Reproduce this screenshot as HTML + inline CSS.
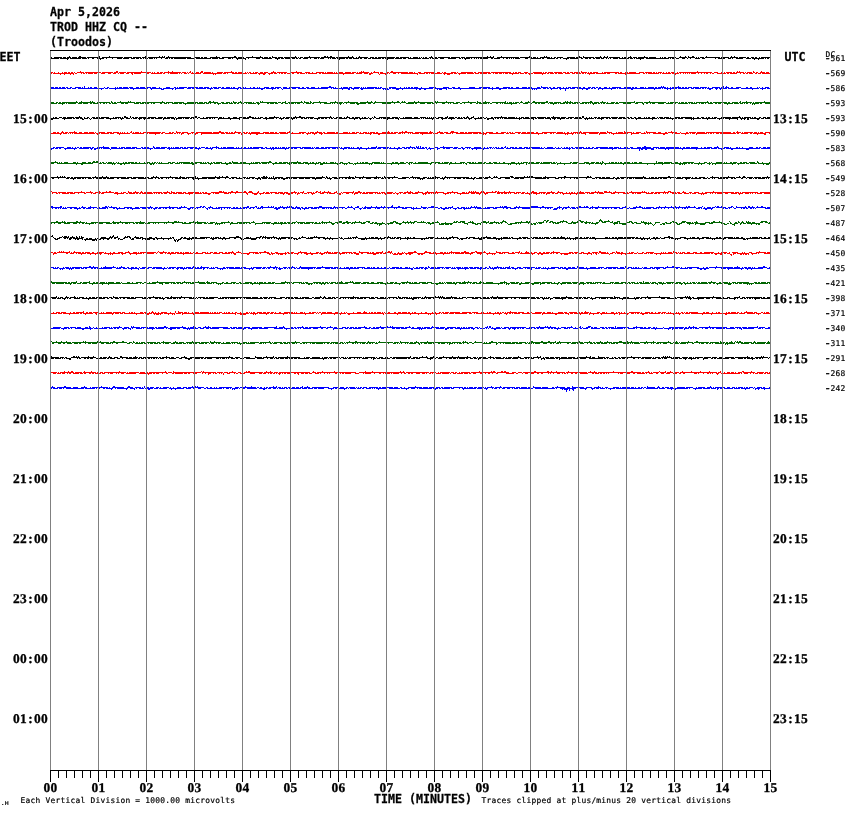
<!DOCTYPE html>
<html lang="en"><head><meta charset="utf-8"><title>TROD HHZ CQ -- (Troodos) Apr 5,2026</title>
<style>html,body{margin:0;padding:0;background:#fff}body{width:850px;height:814px;overflow:hidden}svg{display:block}.b{font-family:'DejaVu Sans Mono','Liberation Mono',monospace;font-weight:bold;font-size:11.627px;fill:#000;stroke:#000;stroke-width:.25px}.t{font-family:'DejaVu Sans Mono','Liberation Mono',monospace;font-weight:normal;font-size:7.9px;fill:#000;stroke:#000;stroke-width:.2px;letter-spacing:.244px}.d{font-family:'Liberation Serif','DejaVu Serif',serif;font-weight:bold;font-size:13.4px;text-rendering:geometricPrecision;fill:#000;stroke:#000;stroke-width:.3px}.m{font-family:'Liberation Sans',sans-serif;font-size:13px;letter-spacing:0;stroke-width:.1px}.g{stroke:#808080;stroke-width:1;fill:none}.k{stroke:#000;stroke-width:1;fill:none}.tr{fill:none;stroke-width:1;stroke-linejoin:miter}</style></head><body>
<svg width="850" height="814" viewBox="0 0 850 814" shape-rendering="crispEdges">
<rect x="0" y="0" width="850" height="814" fill="#fff"/>
<path class="tr" stroke="#000" d="M69 56.5h1m9 0h2m18 0h1m9 0h1m35 0h1m13 0h1m2 0h1m1 0h1m3 0h1m47 0h1m17 0h2m16 0h1m7 0h1m11 0h1m22 0h1m13 0h1m14 0h2m1 0h1m2 0h2m16 0h1m3 0h1m6 0h1m71 0h1m55 0h1m2 0h1m2 0h1m7 0h1m27 0h1m14 0h1m1 0h1m32 0h1m3 0h1m16 0h1m3 0h1m2 0h1m22 0h1m13 0h1m35 0h1m4 0h1m2 0h1m3 0h2m12 0h1m24 0h1m2 0h1M51 57.5h1m2 0h8m1 0h3m1 0h4m1 0h5m1 0h8m1 0h13m2 0h21m1 0h8m1 0h8m1 0h5m1 0h17m1 0h25m3 0h6m1 0h2m1 0h3m3 0h10m2 0h15m1 0h6m2 0h17m1 0h4m1 0h2m1 0h5m1 0h5m1 0h13m1 0h1m1 0h3m1 0h16m1 0h14m1 0h2m1 0h15m2 0h1m1 0h10m2 0h4m1 0h2m1 0h17m1 0h3m1 0h9m1 0h1m2 0h5m1 0h1m1 0h1m1 0h1m1 0h2m2 0h4m2 0h2m1 0h12m1 0h9m1 0h4m1 0h28m3 0h22m1 0h12m1 0h3m1 0h1m2 0h10m1 0h1m2 0h2m1 0h6m4 0h8m1 0h6m1 0h11m1 0h7m1 0h5m1 0h11m2 0h1m1 0h3m1 0h4m1 0h4m1 0h10m1 0h7m4 0h1m1 0h1m1 0h2m2 0h8m3 0h8m1 0h7m1 0h1m1 0h1m1 0h4m1 0h15m1 0h8m1 0h8m1 0h7m1 0h2m2 0h3m1 0h2m2 0h1m1 0h10M51 58.5h8m1 0h9m1 0h11m1 0h5m1 0h1m3 0h2m3 0h1m1 0h5m2 0h1m5 0h1m4 0h5m1 0h6m2 0h4m1 0h3m1 0h2m1 0h1m1 0h3m1 0h4m1 0h1m1 0h1m4 0h1m3 0h3m1 0h1m1 0h2m1 0h12m1 0h8m1 0h15m1 0h6m1 0h5m4 0h3m1 0h1m3 0h10m2 0h1m7 0h4m2 0h10m3 0h5m1 0h3m1 0h5m2 0h3m1 0h2m1 0h2m2 0h5m2 0h1m3 0h3m1 0h1m1 0h4m4 0h1m1 0h1m1 0h4m1 0h8m1 0h2m1 0h3m1 0h6m1 0h2m2 0h3m1 0h3m1 0h9m1 0h2m1 0h9m1 0h7m1 0h3m2 0h13m1 0h7m1 0h1m1 0h6m2 0h4m4 0h8m3 0h2m1 0h1m1 0h6m1 0h1m2 0h1m1 0h1m1 0h1m1 0h8m3 0h2m1 0h6m3 0h1m2 0h2m1 0h1m1 0h1m1 0h1m1 0h5m5 0h3m3 0h10m1 0h2m3 0h8m1 0h2m2 0h1m2 0h6m1 0h8m3 0h2m2 0h3m1 0h2m2 0h2m1 0h4m1 0h3m2 0h1m1 0h1m1 0h1m2 0h5m1 0h7m1 0h2m1 0h3m1 0h1m1 0h8m2 0h23m1 0h1m1 0h3m1 0h3m3 0h3m2 0h1m2 0h1m4 0h5m2 0h3m10 0h1m2 0h7m3 0h3m1 0h1m3 0h7m3 0h5m1 0h12m1 0h1m1 0h2m1 0h1M67 59.5h1m32 0h1m136 0h1m7 0h1m31 0h1m61 0h1m47 0h1m77 0h1m100 0h1m73 0h1m113 0h1m3 0h1"/>
<path class="tr" stroke="#f00" d="M80 71.5h1m35 0h2m23 0h1m26 0h1m3 0h1m17 0h1m10 0h2m28 0h1m41 0h1m22 0h1m64 0h1m1 0h1m10 0h1m16 0h2m188 0h1m115 0h1m39 0h1m1 0h1m13 0h1m7 0h1M51 72.5h2m1 0h1m3 0h1m3 0h1m1 0h3m1 0h2m1 0h2m1 0h1m2 0h7m1 0h16m1 0h11m1 0h4m1 0h7m1 0h24m1 0h1m1 0h1m2 0h2m1 0h3m1 0h17m1 0h4m1 0h1m1 0h2m1 0h1m1 0h1m1 0h3m1 0h3m1 0h7m1 0h1m4 0h6m1 0h10m1 0h2m1 0h4m3 0h1m1 0h1m1 0h2m2 0h1m1 0h3m2 0h3m1 0h4m3 0h5m1 0h10m3 0h12m3 0h5m2 0h1m3 0h8m1 0h1m1 0h6m1 0h1m1 0h1m1 0h5m2 0h6m1 0h4m1 0h1m1 0h10m2 0h1m1 0h6m1 0h3m3 0h3m1 0h18m1 0h4m1 0h1m3 0h3m3 0h11m2 0h3m2 0h1m1 0h2m5 0h5m1 0h1m3 0h12m1 0h2m2 0h4m1 0h7m1 0h20m2 0h1m1 0h2m1 0h3m3 0h4m5 0h9m1 0h1m1 0h2m1 0h5m1 0h8m1 0h3m1 0h2m1 0h3m1 0h6m1 0h6m1 0h1m1 0h2m1 0h5m4 0h1m1 0h15m1 0h2m3 0h3m1 0h7m3 0h5m1 0h7m1 0h2m1 0h1m1 0h4m1 0h1m2 0h1m1 0h2m1 0h4m2 0h1m1 0h33m2 0h4m3 0h2m1 0h1m1 0h6m1 0h2m1 0h8m1 0h1m1 0h5m1 0h2m1 0h2m2 0h5m1 0h3m1 0h1M51 73.5h1m1 0h21m1 0h2m4 0h1m1 0h2m1 0h1m1 0h5m1 0h3m1 0h1m2 0h4m3 0h3m2 0h3m2 0h1m1 0h4m2 0h3m2 0h2m1 0h7m5 0h3m2 0h11m1 0h2m3 0h1m1 0h8m1 0h1m1 0h1m2 0h3m1 0h1m2 0h10m2 0h19m1 0h3m1 0h1m4 0h15m1 0h1m1 0h7m1 0h8m2 0h5m1 0h3m2 0h1m1 0h2m1 0h2m1 0h3m2 0h2m3 0h2m1 0h5m1 0h1m1 0h9m2 0h2m1 0h32m2 0h6m2 0h4m1 0h4m5 0h1m1 0h6m1 0h1m1 0h1m3 0h3m2 0h1m2 0h17m1 0h6m1 0h2m1 0h1m1 0h3m1 0h7m1 0h10m1 0h3m1 0h8m1 0h7m1 0h4m1 0h7m1 0h3m2 0h1m1 0h3m1 0h3m1 0h1m1 0h3m1 0h10m1 0h4m1 0h2m1 0h5m1 0h12m1 0h2m1 0h4m1 0h2m1 0h5m2 0h5m2 0h3m1 0h5m1 0h2m1 0h1m1 0h8m1 0h10m1 0h3m5 0h2m1 0h22m3 0h2m1 0h1m1 0h11m1 0h1m1 0h9m1 0h7m1 0h1m2 0h1m1 0h1m1 0h1m1 0h1m1 0h5m2 0h1m2 0h1m2 0h1m1 0h2m2 0h1m1 0h2m3 0h9m1 0h2m1 0h7m3 0h1m2 0h2m1 0h2m1 0h4m2 0h2m1 0h3m1 0h9M60 74.5h1m3 0h1m5 0h1m2 0h1m58 0h1m80 0h1m1 0h1m43 0h1m3 0h2m4 0h1m73 0h1m25 0h2m8 0h1m5 0h1m31 0h1m26 0h1m2 0h3m9 0h1m52 0h1m16 0h1m12 0h1m46 0h1m35 0h1m49 0h1"/>
<path class="tr" stroke="#00f" d="M84 86.5h1m244 0h2m210 0h1m119 0h1m1 0h1m14 0h1m44 0h1m2 0h1M51 87.5h3m1 0h3m1 0h2m1 0h3m1 0h2m2 0h2m3 0h6m1 0h1m1 0h1m3 0h1m1 0h2m2 0h3m7 0h1m2 0h2m6 0h1m1 0h1m1 0h3m1 0h5m1 0h4m3 0h3m1 0h5m1 0h5m1 0h4m3 0h1m6 0h4m4 0h2m1 0h1m1 0h8m1 0h6m1 0h3m1 0h4m1 0h5m2 0h1m1 0h4m1 0h3m1 0h2m2 0h4m1 0h1m1 0h2m3 0h3m1 0h2m1 0h1m4 0h1m2 0h2m2 0h1m1 0h1m4 0h5m2 0h3m1 0h6m2 0h4m2 0h1m1 0h9m2 0h2m2 0h3m2 0h4m3 0h1m2 0h13m1 0h1m5 0h1m1 0h5m1 0h3m2 0h6m1 0h1m1 0h1m1 0h1m1 0h10m1 0h1m1 0h2m7 0h7m4 0h1m3 0h1m1 0h1m1 0h2m1 0h2m1 0h4m3 0h1m7 0h5m1 0h1m7 0h6m3 0h3m3 0h2m9 0h6m4 0h11m2 0h1m3 0h3m4 0h7m1 0h2m3 0h3m3 0h5m1 0h4m5 0h3m1 0h7m1 0h2m2 0h2m2 0h4m2 0h1m2 0h1m1 0h3m1 0h9m2 0h2m3 0h3m1 0h3m1 0h2m1 0h2m3 0h3m2 0h1m2 0h9m3 0h7m1 0h2m1 0h2m3 0h4m1 0h1m2 0h6m1 0h2m1 0h8m1 0h1m2 0h1m1 0h9m1 0h2m1 0h2m1 0h4m1 0h6m1 0h7m1 0h1m3 0h8m1 0h1m1 0h1m1 0h4m2 0h2m3 0h5m5 0h2m2 0h2m5 0h1m1 0h1m2 0h1m2 0h4M51 88.5h15m1 0h4m1 0h4m2 0h26m1 0h3m1 0h20m1 0h18m2 0h12m1 0h11m1 0h9m3 0h4m1 0h3m1 0h10m1 0h6m1 0h5m2 0h18m1 0h2m1 0h22m1 0h10m1 0h2m2 0h1m1 0h8m1 0h4m2 0h8m1 0h21m3 0h1m1 0h17m1 0h8m1 0h14m1 0h6m1 0h6m1 0h2m1 0h41m1 0h13m1 0h4m1 0h28m1 0h5m1 0h19m1 0h33m2 0h3m1 0h2m1 0h8m1 0h10m1 0h5m2 0h13m1 0h2m1 0h2m2 0h18m1 0h1m1 0h7m1 0h34m1 0h1m1 0h13m1 0h11m2 0h3m1 0h6m1 0h2m1 0h1m1 0h6m2 0h3m1 0h8m1 0h11m2 0h18m1 0h6m1 0h4M98 89.5h1m2 0h1m13 0h1m17 0h1m17 0h1m9 0h3m8 0h1m2 0h1m34 0h1m26 0h1m23 0h2m9 0h1m9 0h1m59 0h1m5 0h2m3 0h1m7 0h2m20 0h1m1 0h1m1 0h2m7 0h3m3 0h1m13 0h1m2 0h2m3 0h2m11 0h1m1 0h3m4 0h1m13 0h1m31 0h1m6 0h2m31 0h1m1 0h1m1 0h1m14 0h1m8 0h1m4 0h1m16 0h1m3 0h2m10 0h1m3 0h1m8 0h1m19 0h2m21 0h1m12 0h1m2 0h1m38 0h2m5 0h1m3 0h1m1 0h1m29 0h1m9 0h1M565 90.5h1"/>
<path class="tr" stroke="#006400" d="M76 101.5h1m4 0h1m8 0h1m1 0h1m5 0h1m12 0h1m8 0h1m7 0h1m1 0h1m31 0h1m46 0h2m2 0h1m19 0h1m6 0h1m19 0h1m1 0h1m22 0h1m15 0h1m2 0h1m5 0h1m8 0h1m15 0h1m12 0h1m18 0h1m3 0h1m3 0h1m16 0h1m4 0h2m3 0h1m1 0h1m9 0h1m3 0h1m16 0h1m1 0h1m8 0h1m21 0h1m8 0h1m7 0h1m19 0h1m15 0h1m6 0h1m4 0h2m11 0h2m17 0h1m1 0h1m2 0h1m19 0h2m10 0h1m31 0h1m14 0h1m57 0h1m32 0h1m5 0h1m17 0h1M51 102.5h3m2 0h2m1 0h2m1 0h16m1 0h16m2 0h13m1 0h2m1 0h2m1 0h18m1 0h5m1 0h23m1 0h7m1 0h10m3 0h7m1 0h3m1 0h4m1 0h3m1 0h10m3 0h3m2 0h4m1 0h1m1 0h4m1 0h5m1 0h8m1 0h1m2 0h3m1 0h17m1 0h3m1 0h4m2 0h2m1 0h12m1 0h5m1 0h2m1 0h14m3 0h13m1 0h14m2 0h13m1 0h26m1 0h5m2 0h25m1 0h20m2 0h4m2 0h14m1 0h4m1 0h8m2 0h14m1 0h1m1 0h3m1 0h1m1 0h4m1 0h3m2 0h6m1 0h16m1 0h4m1 0h7m2 0h10m1 0h4m1 0h1m2 0h11m1 0h5m1 0h6m1 0h1m3 0h4m1 0h2m1 0h16m1 0h7m1 0h22m2 0h1m1 0h8m1 0h1m1 0h3m1 0h2m1 0h5m1 0h1m1 0h13m1 0h2m1 0h14m1 0h2m2 0h6m1 0h2m1 0h10m1 0h1m1 0h16M51 103.5h6m1 0h7m1 0h1m1 0h8m2 0h4m1 0h5m2 0h2m1 0h5m2 0h1m2 0h2m1 0h1m2 0h2m1 0h5m4 0h3m1 0h3m6 0h5m1 0h4m1 0h4m2 0h1m1 0h2m5 0h2m2 0h3m1 0h1m3 0h6m1 0h3m1 0h13m1 0h8m1 0h3m1 0h1m3 0h2m1 0h4m1 0h6m1 0h4m1 0h2m1 0h2m2 0h3m2 0h1m1 0h8m1 0h3m7 0h2m1 0h4m1 0h3m3 0h2m2 0h3m1 0h5m1 0h1m1 0h3m3 0h1m2 0h5m1 0h2m6 0h1m3 0h7m1 0h1m1 0h1m2 0h1m1 0h3m1 0h1m2 0h1m3 0h5m1 0h10m2 0h3m2 0h2m7 0h9m3 0h1m5 0h1m5 0h8m1 0h2m3 0h5m2 0h4m1 0h3m1 0h1m5 0h3m3 0h1m1 0h1m2 0h5m2 0h2m2 0h1m5 0h2m4 0h2m1 0h3m1 0h4m1 0h1m1 0h2m4 0h2m2 0h1m1 0h1m1 0h13m2 0h1m3 0h5m2 0h2m3 0h2m1 0h2m1 0h4m3 0h1m1 0h7m1 0h1m1 0h5m1 0h2m1 0h2m1 0h4m1 0h2m1 0h4m1 0h2m1 0h1m1 0h1m1 0h5m1 0h2m1 0h1m1 0h2m1 0h8m1 0h4m4 0h3m1 0h4m4 0h3m4 0h2m2 0h2m2 0h1m1 0h3m3 0h6m2 0h7m1 0h2m2 0h10m1 0h1m1 0h6m2 0h1m1 0h3m1 0h1m2 0h5m2 0h2m1 0h3m3 0h9m1 0h5m1 0h3m1 0h1m1 0h2m2 0h1m1 0h7m1 0h2m3 0h6M62 104.5h1m122 0h1m32 0h1m39 0h1m81 0h1m16 0h2m152 0h1m41 0h1m39 0h1m49 0h1m83 0h1m24 0h1m1 0h1"/>
<path class="tr" stroke="#000" d="M79 116.5h1m44 0h2m4 0h1m64 0h2m52 0h2m23 0h1m20 0h1m3 0h2m29 0h1m16 0h1m26 0h1m72 0h1m19 0h1m5 0h1m27 0h1m51 0h1m28 0h2m155 0h1M53 117.5h1m1 0h2m2 0h3m1 0h3m1 0h7m1 0h7m2 0h1m2 0h2m3 0h3m1 0h2m1 0h1m1 0h8m4 0h1m1 0h6m1 0h1m1 0h4m2 0h1m1 0h2m1 0h3m1 0h7m2 0h8m2 0h5m1 0h2m1 0h7m1 0h1m2 0h12m1 0h6m1 0h2m3 0h1m2 0h12m1 0h3m1 0h1m4 0h2m3 0h4m2 0h7m1 0h7m1 0h1m2 0h1m1 0h3m2 0h2m2 0h10m1 0h1m2 0h2m1 0h6m1 0h12m1 0h8m4 0h14m1 0h1m2 0h6m2 0h1m1 0h4m2 0h2m1 0h5m2 0h1m1 0h2m2 0h1m3 0h1m1 0h2m3 0h11m2 0h6m1 0h1m3 0h1m1 0h7m2 0h4m2 0h6m1 0h1m1 0h1m1 0h1m1 0h3m2 0h5m2 0h3m1 0h5m1 0h2m1 0h2m1 0h1m1 0h2m1 0h3m2 0h3m4 0h1m1 0h4m2 0h1m4 0h2m1 0h13m1 0h7m1 0h1m2 0h1m1 0h3m1 0h4m1 0h6m1 0h9m1 0h3m1 0h9m1 0h5m2 0h6m1 0h6m1 0h2m2 0h1m2 0h1m1 0h1m2 0h3m1 0h2m1 0h9m1 0h7m1 0h6m2 0h2m1 0h2m2 0h2m2 0h3m3 0h1m1 0h1m1 0h2m2 0h3m2 0h1m1 0h4m1 0h5m1 0h1m3 0h6m1 0h11m1 0h1m3 0h2m2 0h3m2 0h1m1 0h2m2 0h1m1 0h3m4 0h10m1 0h9m1 0h1m1 0h7m1 0h1m1 0h2m3 0h2m2 0h3m1 0h3M51 118.5h8m3 0h10m1 0h2m1 0h3m1 0h3m1 0h4m1 0h1m1 0h1m1 0h11m2 0h11m1 0h1m1 0h4m2 0h4m1 0h1m1 0h4m1 0h4m1 0h7m1 0h3m1 0h7m1 0h7m1 0h4m1 0h6m1 0h1m1 0h4m1 0h2m1 0h2m2 0h1m2 0h8m1 0h2m1 0h1m1 0h1m3 0h22m2 0h7m3 0h9m2 0h11m2 0h1m2 0h5m1 0h4m2 0h4m1 0h1m4 0h2m1 0h3m1 0h1m1 0h3m1 0h6m1 0h3m1 0h2m2 0h1m1 0h2m1 0h3m1 0h9m2 0h9m1 0h9m1 0h3m1 0h1m2 0h4m1 0h1m1 0h11m1 0h4m1 0h20m1 0h1m1 0h1m1 0h9m2 0h3m2 0h6m1 0h7m2 0h6m1 0h3m1 0h4m2 0h9m1 0h2m1 0h7m1 0h1m1 0h2m1 0h1m1 0h1m1 0h18m1 0h11m1 0h2m1 0h6m1 0h6m1 0h4m1 0h8m1 0h3m1 0h2m2 0h8m2 0h10m1 0h1m1 0h7m2 0h2m1 0h2m1 0h5m1 0h4m1 0h4m1 0h2m1 0h3m1 0h22m1 0h1m1 0h5m1 0h11m1 0h5m2 0h16m1 0h14m1 0h7m1 0h13m2 0h6m1 0h2m1 0h10m1 0h3m1 0h6M51 119.5h2m11 0h1m17 0h2m6 0h1m19 0h1m10 0h1m17 0h1m4 0h1m18 0h1m10 0h1m1 0h1m41 0h1m11 0h1m8 0h1m26 0h1m14 0h1m10 0h1m24 0h1m36 0h1m5 0h1m9 0h1m16 0h1m10 0h1m33 0h1m9 0h1m8 0h1m17 0h1m5 0h1m11 0h2m4 0h1m25 0h1m13 0h1m16 0h1m3 0h1m5 0h1m24 0h1m1 0h1m13 0h1m34 0h1m15 0h1m19 0h1m18 0h1m1 0h1m13 0h1m11 0h1m9 0h1m7 0h1m3 0h1m2 0h1m2 0h2m8 0h2"/>
<path class="tr" stroke="#f00" d="M62 131.5h1m11 0h1m56 0h1m44 0h1m42 0h2m14 0h1m53 0h1m27 0h1m70 0h1m13 0h1m2 0h2m23 0h1m8 0h1m11 0h3m126 0h1m26 0h1m16 0h1m21 0h1m24 0h1m65 0h1M53 132.5h3m1 0h2m2 0h3m1 0h3m1 0h8m2 0h3m2 0h4m1 0h5m1 0h1m2 0h7m2 0h5m1 0h6m1 0h1m1 0h1m1 0h1m2 0h1m2 0h2m1 0h1m1 0h4m1 0h1m2 0h18m1 0h3m4 0h2m1 0h2m2 0h5m1 0h6m3 0h4m1 0h16m1 0h11m1 0h3m1 0h1m1 0h2m1 0h7m2 0h2m1 0h2m1 0h1m1 0h9m3 0h6m1 0h4m1 0h2m2 0h7m1 0h4m1 0h1m6 0h7m2 0h1m1 0h4m1 0h7m1 0h2m2 0h8m1 0h3m4 0h5m1 0h1m2 0h3m1 0h3m1 0h1m2 0h4m1 0h1m1 0h5m1 0h2m4 0h8m1 0h2m1 0h4m1 0h14m2 0h13m1 0h4m4 0h6m1 0h4m2 0h8m2 0h4m1 0h2m1 0h13m1 0h2m2 0h7m3 0h2m3 0h5m1 0h1m1 0h2m1 0h1m2 0h6m1 0h4m1 0h7m2 0h2m4 0h14m1 0h6m1 0h1m2 0h2m2 0h1m1 0h9m1 0h16m1 0h6m1 0h5m4 0h1m1 0h5m1 0h8m1 0h1m2 0h5m3 0h1m1 0h10m2 0h3m4 0h2m1 0h6m1 0h2m3 0h1m5 0h2m1 0h7m1 0h8m1 0h25m2 0h2m1 0h5m1 0h1m1 0h9m1 0h3m1 0h1m1 0h3m2 0h6M51 133.5h11m1 0h4m1 0h1m1 0h1m1 0h1m1 0h21m1 0h4m1 0h8m1 0h4m3 0h13m2 0h12m2 0h2m1 0h11m1 0h2m2 0h8m1 0h2m1 0h1m1 0h1m1 0h3m3 0h4m1 0h1m2 0h3m3 0h18m2 0h4m1 0h9m3 0h2m1 0h2m1 0h3m1 0h16m1 0h14m1 0h8m3 0h10m1 0h2m2 0h5m1 0h5m2 0h4m1 0h33m2 0h5m1 0h7m1 0h23m2 0h3m1 0h1m1 0h1m3 0h1m1 0h1m1 0h7m1 0h12m1 0h5m2 0h4m2 0h5m1 0h1m3 0h16m1 0h5m1 0h8m2 0h15m2 0h3m1 0h5m3 0h2m1 0h22m1 0h3m3 0h2m1 0h1m2 0h18m1 0h1m1 0h1m1 0h1m1 0h5m3 0h9m1 0h8m2 0h1m1 0h17m3 0h8m2 0h5m1 0h1m1 0h1m3 0h15m4 0h1m1 0h6m1 0h8m1 0h1m1 0h3m1 0h11m1 0h1m1 0h2m1 0h1m2 0h3m1 0h16m1 0h2m2 0h7m2 0h2m1 0h13m3 0h2M60 134.5h1m36 0h1m21 0h1m35 0h1m25 0h1m6 0h1m6 0h1m5 0h1m39 0h1m8 0h1m5 0h2m49 0h1m6 0h1m6 0h1m48 0h1m7 0h2m42 0h1m60 0h1m1 0h1m52 0h1m26 0h1m1 0h1m4 0h1m12 0h1m13 0h1m13 0h1m17 0h1m31 0h2m20 0h1m10 0h1m60 0h1m6 0h2"/>
<path class="tr" stroke="#00f" d="M103 146.5h1m49 0h1m62 0h1m121 0h1m37 0h1m33 0h1m5 0h1m1 0h1m1 0h1m22 0h1m61 0h1m138 0h2m71 0h1M53 147.5h2m1 0h8m3 0h4m1 0h1m2 0h1m1 0h2m1 0h2m1 0h8m1 0h2m3 0h12m2 0h6m2 0h1m1 0h4m1 0h5m1 0h5m4 0h2m1 0h5m4 0h2m1 0h4m1 0h6m1 0h2m1 0h1m1 0h1m1 0h4m1 0h3m1 0h2m1 0h10m2 0h1m1 0h4m1 0h2m2 0h1m1 0h7m2 0h1m1 0h3m1 0h7m2 0h1m1 0h1m2 0h2m1 0h2m2 0h1m1 0h2m1 0h10m2 0h2m3 0h1m1 0h2m1 0h2m1 0h1m1 0h1m1 0h3m1 0h1m1 0h13m1 0h9m1 0h1m1 0h1m1 0h3m2 0h3m1 0h15m1 0h1m2 0h6m1 0h1m1 0h1m3 0h2m1 0h2m6 0h1m2 0h6m1 0h8m1 0h2m1 0h1m3 0h1m3 0h2m2 0h3m1 0h9m1 0h3m1 0h1m1 0h2m1 0h2m2 0h1m4 0h4m2 0h13m1 0h4m3 0h2m2 0h6m3 0h7m1 0h1m1 0h1m2 0h1m1 0h3m1 0h1m1 0h2m1 0h1m2 0h2m1 0h2m1 0h1m2 0h4m1 0h2m2 0h3m2 0h4m1 0h11m1 0h1m2 0h1m2 0h6m2 0h1m2 0h1m2 0h1m2 0h1m1 0h2m1 0h1m1 0h2m2 0h9m2 0h1m1 0h2m2 0h2m2 0h12m1 0h4m1 0h5m1 0h1m3 0h2m1 0h1m2 0h3m4 0h4m1 0h9m2 0h6m1 0h5m1 0h13m1 0h1m2 0h2m1 0h4m1 0h7m3 0h1m2 0h2m1 0h5m2 0h5m3 0h1m1 0h5m1 0h1m5 0h2m1 0h1m2 0h1m6 0h4m3 0h2m1 0h2m2 0h3m1 0h4M51 148.5h3m1 0h3m1 0h2m3 0h13m2 0h10m1 0h3m1 0h6m1 0h1m1 0h7m1 0h12m1 0h11m1 0h5m1 0h11m1 0h11m2 0h14m1 0h6m2 0h3m2 0h6m4 0h8m3 0h1m1 0h41m2 0h4m1 0h23m1 0h3m1 0h3m3 0h3m1 0h10m1 0h12m1 0h2m2 0h4m1 0h1m2 0h7m1 0h28m1 0h4m2 0h5m1 0h13m2 0h3m1 0h2m2 0h1m1 0h2m1 0h8m1 0h1m1 0h7m2 0h3m3 0h2m1 0h4m3 0h4m1 0h3m1 0h3m2 0h1m1 0h1m1 0h18m1 0h1m1 0h1m1 0h1m1 0h8m2 0h5m1 0h13m1 0h5m1 0h12m1 0h10m1 0h5m1 0h9m1 0h3m1 0h6m1 0h10m1 0h4m2 0h17m1 0h12m1 0h23m2 0h1m1 0h52m1 0h6m1 0h7m1 0h34m1 0h10M51 149.5h1m13 0h1m8 0h1m16 0h1m2 0h2m14 0h1m39 0h1m18 0h1m28 0h1m12 0h1m59 0h1m1 0h1m11 0h1m57 0h1m15 0h1m6 0h1m30 0h1m29 0h1m2 0h1m6 0h1m25 0h1m8 0h1m3 0h1m6 0h1m85 0h1m8 0h1m33 0h1m26 0h1m1 0h2m2 0h2m4 0h3m11 0h1m2 0h1m13 0h1m13 0h1m24 0h1m9 0h2m13 0h3M639 150.5h1"/>
<path class="tr" stroke="#006400" d="M55 161.5h1m37 0h2m1 0h2m134 0h1m36 0h2m26 0h1m136 0h1m167 0h1m53 0h1m100 0h1M51 162.5h7m1 0h1m1 0h1m2 0h4m5 0h3m1 0h1m4 0h4m2 0h3m1 0h6m2 0h1m1 0h2m2 0h1m1 0h4m1 0h1m2 0h1m1 0h1m4 0h1m1 0h2m1 0h6m1 0h2m2 0h1m4 0h1m2 0h3m2 0h1m1 0h2m1 0h1m1 0h1m1 0h1m6 0h3m1 0h3m2 0h1m1 0h11m1 0h2m2 0h7m1 0h1m1 0h1m1 0h2m2 0h1m1 0h2m1 0h6m3 0h1m3 0h2m1 0h6m2 0h2m1 0h3m5 0h1m1 0h1m1 0h5m1 0h11m3 0h2m2 0h3m1 0h5m1 0h1m1 0h10m2 0h5m2 0h1m1 0h2m2 0h1m1 0h3m2 0h2m1 0h1m3 0h4m1 0h1m4 0h3m5 0h2m7 0h1m2 0h1m1 0h2m1 0h3m4 0h8m1 0h1m1 0h1m2 0h1m5 0h2m1 0h3m2 0h4m2 0h2m1 0h4m2 0h1m2 0h10m3 0h9m2 0h1m1 0h5m1 0h2m3 0h1m4 0h5m2 0h4m1 0h2m1 0h1m2 0h5m1 0h2m3 0h2m2 0h4m2 0h1m3 0h2m6 0h4m3 0h1m2 0h1m1 0h5m1 0h5m2 0h4m1 0h1m1 0h9m1 0h2m1 0h1m3 0h1m9 0h2m1 0h6m5 0h5m2 0h4m1 0h3m1 0h1m1 0h2m5 0h1m1 0h3m1 0h2m1 0h1m1 0h2m2 0h2m1 0h3m2 0h1m1 0h3m2 0h3m14 0h1m1 0h5m1 0h8m2 0h4m2 0h1m2 0h11m5 0h1m4 0h3m2 0h1m1 0h1m4 0h7m1 0h1m1 0h1m3 0h2m1 0h4m3 0h2m1 0h4m2 0h6m2 0h2m3 0h1m6 0h2M51 163.5h3m3 0h36m5 0h4m1 0h3m1 0h9m1 0h13m1 0h17m1 0h6m1 0h1m1 0h11m1 0h3m2 0h5m1 0h1m1 0h14m3 0h7m1 0h5m1 0h6m1 0h11m1 0h25m1 0h2m1 0h5m1 0h1m3 0h14m1 0h5m1 0h4m1 0h6m1 0h14m1 0h21m1 0h6m1 0h4m1 0h19m1 0h32m2 0h2m1 0h1m1 0h19m3 0h1m2 0h10m1 0h13m1 0h1m1 0h2m2 0h16m1 0h7m1 0h30m2 0h1m1 0h11m1 0h10m1 0h5m1 0h14m1 0h5m1 0h7m1 0h8m1 0h8m1 0h66m1 0h16m1 0h2m1 0h2m1 0h11m2 0h4m1 0h24m1 0h8m1 0h3m1 0h7m1 0h13M76 164.5h1m4 0h2m15 0h1m13 0h1m1 0h1m5 0h2m2 0h1m25 0h2m1 0h1m38 0h2m16 0h1m15 0h2m14 0h1m6 0h1m23 0h1m15 0h1m18 0h1m6 0h1m4 0h3m14 0h1m6 0h1m1 0h1m6 0h1m1 0h1m13 0h1m1 0h1m19 0h1m6 0h1m10 0h1m20 0h1m18 0h1m16 0h1m41 0h1m1 0h1m5 0h1m2 0h1m6 0h1m30 0h1m6 0h1m24 0h1m11 0h1m3 0h1m17 0h1m23 0h1m6 0h1m7 0h1m16 0h2m1 0h1m1 0h1m13 0h1m2 0h1m7 0h1m2 0h1m2 0h1m16 0h1m5 0h1m24 0h1m2 0h3"/>
<path class="tr" stroke="#000" d="M57 176.5h1m2 0h1m1 0h1m1 0h1m30 0h1m6 0h1m3 0h1m46 0h1m2 0h1m13 0h1m9 0h1m14 0h1m19 0h1m3 0h1m2 0h1m3 0h2m35 0h2m1 0h1m6 0h1m48 0h1m3 0h1m22 0h1m5 0h1m7 0h1m12 0h1m7 0h1m9 0h1m17 0h1m22 0h1m9 0h1m43 0h1m4 0h1m1 0h1m13 0h3m11 0h1m2 0h1m1 0h4m12 0h1m18 0h2m21 0h2m1 0h1m52 0h1m24 0h2m42 0h1m15 0h1m10 0h1m3 0h2m22 0h1M51 177.5h15m1 0h3m1 0h2m1 0h17m1 0h17m1 0h16m1 0h5m1 0h11m1 0h4m2 0h8m1 0h18m1 0h6m1 0h10m1 0h1m4 0h27m2 0h6m2 0h1m3 0h3m1 0h1m1 0h6m3 0h2m1 0h7m1 0h1m1 0h1m1 0h1m1 0h8m3 0h29m1 0h9m1 0h2m1 0h1m2 0h5m1 0h16m1 0h26m1 0h1m1 0h14m4 0h7m1 0h10m3 0h4m1 0h1m1 0h1m1 0h8m2 0h1m1 0h25m2 0h1m2 0h2m3 0h5m1 0h6m2 0h5m2 0h10m1 0h3m1 0h27m1 0h13m2 0h34m3 0h6m1 0h3m1 0h4m3 0h2m2 0h2m1 0h26m3 0h1m1 0h3m1 0h2m1 0h16m1 0h1m1 0h4m1 0h9m1 0h1m2 0h2m2 0h6m2 0h1m2 0h9m1 0h15m1 0h5m1 0h4m1 0h6m1 0h7m1 0h9M52 178.5h2m4 0h1m7 0h3m1 0h6m1 0h4m1 0h2m1 0h1m2 0h4m1 0h1m2 0h6m1 0h3m1 0h7m3 0h2m2 0h8m2 0h5m2 0h8m2 0h5m2 0h1m2 0h2m1 0h2m3 0h1m1 0h1m3 0h1m2 0h6m1 0h5m1 0h1m3 0h2m1 0h12m1 0h7m2 0h3m5 0h1m3 0h2m1 0h2m2 0h7m1 0h1m1 0h4m2 0h2m1 0h6m1 0h5m1 0h9m1 0h2m1 0h7m1 0h3m1 0h4m2 0h5m1 0h5m2 0h10m3 0h1m1 0h5m2 0h6m2 0h1m2 0h2m1 0h3m1 0h3m4 0h2m1 0h1m3 0h5m3 0h3m1 0h1m2 0h3m1 0h2m1 0h2m2 0h1m5 0h8m3 0h1m3 0h1m1 0h1m1 0h8m2 0h9m1 0h1m2 0h5m2 0h1m1 0h1m4 0h2m1 0h4m2 0h2m1 0h9m1 0h7m1 0h4m3 0h2m5 0h3m4 0h5m4 0h5m1 0h4m11 0h11m1 0h2m6 0h4m2 0h1m2 0h1m5 0h1m3 0h1m1 0h3m7 0h1m5 0h3m1 0h1m2 0h15m1 0h5m1 0h3m3 0h1m1 0h3m1 0h1m1 0h8m1 0h15m1 0h2m1 0h4m3 0h1m3 0h1m1 0h7m2 0h5m1 0h10m2 0h4m1 0h2m2 0h1m1 0h1m3 0h7m1 0h2m3 0h2m1 0h2m5 0h2m3 0h1m2 0h3m1 0h1m1 0h2m1 0h7m1 0h1m1 0h1m1 0h1M73 179.5h1m119 0h1m4 0h1m58 0h1m2 0h1m13 0h1m8 0h2m30 0h1m14 0h1m89 0h1m1 0h1m20 0h1m29 0h1m142 0h1m69 0h1"/>
<path class="tr" stroke="#f00" d="M51 191.5h1m29 0h1m8 0h1m8 0h1m6 0h1m2 0h2m17 0h1m6 0h1m5 0h1m25 0h1m3 0h1m47 0h3m1 0h1m7 0h2m3 0h2m6 0h2m3 0h3m6 0h1m35 0h1m8 0h1m12 0h2m2 0h1m3 0h1m3 0h1m7 0h1m16 0h1m4 0h2m47 0h1m2 0h1m7 0h1m8 0h1m8 0h1m15 0h1m16 0h1m1 0h1m1 0h1m1 0h1m5 0h3m8 0h1m2 0h2m1 0h1m5 0h1m4 0h1m22 0h2m17 0h1m6 0h1m21 0h1m14 0h1m2 0h1m5 0h3m2 0h1m5 0h1m15 0h1m10 0h1m1 0h1m19 0h1m3 0h3m3 0h1m8 0h1m29 0h1M52 192.5h5m1 0h8m1 0h6m1 0h11m1 0h7m2 0h6m1 0h12m1 0h3m3 0h1m1 0h3m2 0h4m1 0h6m1 0h3m1 0h2m1 0h5m1 0h9m1 0h7m1 0h4m1 0h6m1 0h3m2 0h11m1 0h1m1 0h2m1 0h2m4 0h16m1 0h19m1 0h5m4 0h2m4 0h2m1 0h3m1 0h7m1 0h5m1 0h4m2 0h7m1 0h1m1 0h4m3 0h5m1 0h1m1 0h2m1 0h3m1 0h9m3 0h3m4 0h1m1 0h11m1 0h7m1 0h2m1 0h12m1 0h1m1 0h4m2 0h6m2 0h1m3 0h4m1 0h9m2 0h8m2 0h19m3 0h11m4 0h3m1 0h1m1 0h11m1 0h5m1 0h10m1 0h18m1 0h5m1 0h3m2 0h1m3 0h6m2 0h7m1 0h8m2 0h6m3 0h1m2 0h1m1 0h2m1 0h1m2 0h7m1 0h5m1 0h12m1 0h8m1 0h12m1 0h2m1 0h18m1 0h1m2 0h3m1 0h14m1 0h6m1 0h3m2 0h4m3 0h3m2 0h5m3 0h1m2 0h29m1 0h4m1 0h1m1 0h16m2 0h11M52 193.5h1m3 0h2m1 0h1m2 0h7m1 0h5m3 0h1m5 0h2m5 0h1m1 0h3m3 0h1m1 0h3m10 0h10m2 0h2m1 0h6m1 0h2m1 0h2m1 0h11m1 0h1m1 0h1m1 0h2m1 0h2m1 0h3m2 0h3m1 0h4m1 0h6m1 0h8m2 0h7m1 0h8m2 0h1m1 0h4m5 0h5m1 0h1m4 0h1m10 0h2m4 0h6m1 0h5m1 0h5m1 0h1m3 0h4m1 0h5m1 0h7m2 0h1m1 0h3m2 0h1m1 0h3m1 0h1m2 0h4m5 0h4m3 0h1m1 0h6m2 0h4m1 0h1m3 0h3m3 0h1m1 0h4m2 0h1m1 0h6m1 0h4m2 0h1m1 0h4m1 0h1m1 0h8m1 0h2m1 0h3m1 0h1m2 0h3m2 0h3m1 0h6m4 0h5m1 0h2m1 0h1m1 0h3m1 0h1m5 0h6m1 0h1m3 0h1m2 0h12m2 0h4m1 0h5m3 0h4m9 0h3m1 0h2m1 0h3m1 0h1m1 0h1m3 0h3m1 0h1m2 0h3m1 0h7m1 0h7m1 0h1m1 0h2m1 0h4m2 0h2m1 0h3m2 0h1m1 0h23m2 0h1m1 0h5m3 0h1m1 0h5m7 0h4m3 0h1m4 0h6m3 0h2m1 0h1m1 0h4m5 0h7m1 0h3m1 0h2m3 0h1m1 0h1m1 0h1m4 0h2m1 0h2m1 0h4m2 0h5m1 0h1m1 0h4m2 0h9m3 0h1m1 0h1m2 0h1m1 0h6m2 0h3m3 0h6m1 0h5m2 0h4m1 0h1m1 0h1m2 0h1m1 0h5m2 0h6M117 194.5h1m71 0h1m18 0h2m37 0h1m6 0h3m3 0h1m22 0h1m4 0h3m6 0h1m14 0h1m26 0h2m13 0h1m30 0h1m11 0h1m25 0h1m1 0h1m19 0h1m14 0h1m18 0h1m5 0h1m43 0h1m6 0h1m9 0h1m16 0h1m6 0h1m5 0h1m49 0h1m74 0h1m1 0h1m35 0h1"/>
<path class="tr" stroke="#00f" d="M392 205.5h1M51 206.5h2m7 0h2m20 0h1m7 0h1m14 0h2m1 0h1m2 0h1m38 0h1m18 0h1m11 0h1m2 0h1m15 0h2m1 0h2m5 0h1m36 0h2m6 0h2m4 0h2m5 0h1m2 0h1m1 0h1m6 0h1m1 0h1m4 0h1m1 0h1m1 0h1m4 0h1m22 0h3m12 0h1m13 0h1m2 0h1m5 0h2m6 0h1m5 0h1m4 0h1m4 0h1m2 0h1m6 0h2m5 0h2m21 0h1m9 0h4m17 0h1m18 0h1m2 0h1m1 0h1m23 0h1m1 0h1m1 0h3m9 0h1m2 0h1m11 0h7m4 0h2m15 0h1m8 0h1m10 0h2m3 0h1m1 0h2m4 0h1m5 0h1m26 0h1m10 0h1m2 0h2m18 0h1m5 0h1m5 0h1m3 0h1m3 0h1m6 0h1m1 0h2m4 0h1m7 0h1m12 0h1m1 0h2m2 0h1m9 0h2m3 0h1m8 0h1m2 0h2m2 0h1m4 0h1m3 0h2M51 207.5h11m1 0h1m1 0h1m1 0h10m2 0h1m1 0h5m2 0h9m1 0h2m2 0h6m1 0h8m2 0h1m4 0h8m3 0h4m1 0h13m2 0h3m1 0h19m1 0h8m3 0h5m1 0h5m1 0h2m1 0h1m2 0h5m3 0h1m1 0h13m2 0h2m1 0h2m2 0h1m1 0h7m1 0h5m1 0h1m1 0h1m1 0h14m1 0h2m1 0h16m1 0h5m1 0h2m2 0h2m1 0h5m1 0h18m1 0h12m2 0h6m2 0h4m3 0h1m1 0h40m1 0h7m1 0h1m2 0h1m4 0h6m1 0h10m2 0h2m3 0h2m1 0h5m4 0h2m2 0h4m1 0h1m1 0h1m1 0h11m4 0h1m1 0h7m1 0h16m3 0h39m4 0h5m1 0h7m1 0h4m1 0h13m1 0h30m2 0h5m2 0h1m3 0h10m1 0h1m1 0h8m2 0h40m2 0h4m2 0h1m2 0h4m1 0h3m1 0h10m2 0h4m1 0h1m2 0h11m1 0h7m1 0h10m1 0h3M52 208.5h1m2 0h2m1 0h1m1 0h1m1 0h5m3 0h2m2 0h7m2 0h2m1 0h5m2 0h1m3 0h9m1 0h1m5 0h2m1 0h9m2 0h2m1 0h10m2 0h5m1 0h2m1 0h1m1 0h4m1 0h3m2 0h1m1 0h2m2 0h2m1 0h2m3 0h4m6 0h4m1 0h1m1 0h2m1 0h1m8 0h2m1 0h1m2 0h8m1 0h1m2 0h1m2 0h1m1 0h1m1 0h14m1 0h1m2 0h2m2 0h1m3 0h4m1 0h1m11 0h6m3 0h2m1 0h1m3 0h1m1 0h4m1 0h4m1 0h7m2 0h6m1 0h1m3 0h3m1 0h1m1 0h1m1 0h4m1 0h1m1 0h1m4 0h1m2 0h2m6 0h2m4 0h3m1 0h3m1 0h4m4 0h1m1 0h3m3 0h1m4 0h1m5 0h1m1 0h1m5 0h5m4 0h10m2 0h3m1 0h1m10 0h2m1 0h8m1 0h1m2 0h4m1 0h4m1 0h8m4 0h1m1 0h13m3 0h4m6 0h1m2 0h2m2 0h6m2 0h1m3 0h9m9 0h1m4 0h1m1 0h2m1 0h1m3 0h4m1 0h1m2 0h2m1 0h2m3 0h1m1 0h4m1 0h1m11 0h2m1 0h1m2 0h3m4 0h2m1 0h2m1 0h1m2 0h1m2 0h3m2 0h4m3 0h3m1 0h6m6 0h9m2 0h4m1 0h1m2 0h1m2 0h1m3 0h1m4 0h2m1 0h1m1 0h1m3 0h1m1 0h2m1 0h1m8 0h4m1 0h1m1 0h10m10 0h1m1 0h3m1 0h1m4 0h2m5 0h1m1 0h2m1 0h2m2 0h2m1 0h1m1 0h1m9 0h6M77 209.5h1m39 0h1m14 0h1m21 0h1m33 0h2m17 0h1m13 0h1m54 0h2m22 0h1m3 0h1m49 0h1m5 0h1m52 0h1m29 0h2m10 0h1m8 0h1m88 0h4m5 0h1m142 0h2m4 0h1"/>
<path class="tr" stroke="#006400" d="M600 219.5h1M503 220.5h1m40 0h2m1 0h2m14 0h1m15 0h2m18 0h3m6 0h1M56 221.5h2m4 0h1m1 0h1m11 0h2m2 0h1m32 0h1m6 0h1m19 0h1m27 0h1m5 0h3m1 0h1m14 0h1m3 0h1m30 0h1m24 0h1m42 0h1m25 0h1m6 0h1m8 0h4m4 0h2m7 0h1m3 0h1m6 0h4m23 0h3m7 0h1m3 0h1m2 0h1m3 0h3m4 0h1m1 0h1m13 0h1m16 0h1m1 0h2m2 0h5m5 0h1m1 0h1m9 0h4m2 0h1m5 0h1m7 0h4m15 0h1m4 0h2m1 0h1m13 0h1m2 0h2m2 0h3m7 0h7m5 0h1m4 0h2m1 0h4m2 0h1m12 0h1m1 0h2m1 0h6m2 0h1m4 0h3m9 0h3m9 0h1m1 0h1m28 0h3m7 0h4m10 0h1m16 0h2m4 0h1m2 0h1m6 0h1m8 0h1m3 0h1m3 0h1m1 0h1m12 0h6M51 222.5h15m1 0h18m1 0h1m4 0h19m2 0h22m1 0h10m1 0h1m1 0h35m1 0h2m3 0h17m1 0h1m2 0h5m1 0h1m4 0h9m1 0h2m4 0h13m1 0h4m7 0h9m3 0h3m1 0h1m1 0h3m1 0h2m1 0h4m1 0h4m1 0h8m1 0h8m1 0h2m2 0h1m1 0h11m3 0h7m1 0h8m1 0h10m1 0h3m2 0h2m2 0h2m1 0h2m5 0h1m7 0h4m1 0h3m4 0h13m2 0h9m1 0h3m2 0h7m6 0h1m7 0h4m1 0h3m1 0h3m3 0h6m7 0h8m1 0h9m1 0h3m2 0h2m8 0h16m5 0h1m1 0h6m2 0h1m2 0h2m1 0h4m1 0h4m1 0h1m3 0h2m3 0h8m2 0h2m1 0h7m1 0h1m3 0h3m3 0h4m4 0h3m1 0h4m1 0h1m6 0h4m1 0h2m1 0h3m4 0h6m1 0h1m1 0h1m4 0h5m5 0h2m3 0h2m1 0h1m1 0h2m4 0h4m1 0h5m1 0h1m1 0h4m7 0h5m1 0h12m7 0h1m4 0h2m1 0h2m1 0h3m2 0h5m1 0h3m5 0h3m2 0h3m1 0h2M51 223.5h1m2 0h1m3 0h3m3 0h6m3 0h4m2 0h1m2 0h2m1 0h9m1 0h1m2 0h5m3 0h6m1 0h3m1 0h2m3 0h1m2 0h3m1 0h1m3 0h2m1 0h2m1 0h5m1 0h5m3 0h1m1 0h1m2 0h1m5 0h1m1 0h1m5 0h2m8 0h9m4 0h1m1 0h5m2 0h3m1 0h5m2 0h8m1 0h1m5 0h8m1 0h6m1 0h1m2 0h2m4 0h8m1 0h1m1 0h4m1 0h16m1 0h2m1 0h2m1 0h1m3 0h1m1 0h3m1 0h6m2 0h1m1 0h7m1 0h1m1 0h1m1 0h1m4 0h4m2 0h1m4 0h3m2 0h2m2 0h2m1 0h1m6 0h4m5 0h3m1 0h11m1 0h7m3 0h6m3 0h1m2 0h1m2 0h1m1 0h1m12 0h1m1 0h6m5 0h1m1 0h12m11 0h4m4 0h4m1 0h4m5 0h1m2 0h4m3 0h1m1 0h2m1 0h1m5 0h1m2 0h7m1 0h1m1 0h1m7 0h1m1 0h2m1 0h3m1 0h1m1 0h3m11 0h1m1 0h4m9 0h4m1 0h3m9 0h2m2 0h1m1 0h7m15 0h5m1 0h8m5 0h2m2 0h5m3 0h8m3 0h1m6 0h3m1 0h5m5 0h2m1 0h3m5 0h7m1 0h11m3 0h4m8 0h1m1 0h2m2 0h2m1 0h2m2 0h4m2 0h2m1 0h3m1 0h13m8 0h2M89 224.5h1m125 0h1m1 0h1m1 0h1m10 0h1m24 0h1m17 0h1m7 0h1m50 0h2m43 0h1m1 0h3m3 0h2m1 0h1m10 0h2m29 0h1m8 0h5m1 0h4m1 0h2m15 0h1m7 0h3m2 0h1m27 0h4m19 0h2m1 0h2m59 0h1m18 0h1m7 0h5m18 0h1m2 0h1m3 0h1m1 0h1m5 0h2m1 0h2m12 0h3m9 0h1m5 0h1m4 0h5m19 0h3m5 0h3m5 0h1m10 0h1m4 0h1m1 0h2M379 225.5h1m273 0h1m80 0h1"/>
<path class="tr" stroke="#000" d="M52 235.5h1m60 0h1M51 236.5h2m9 0h1m1 0h3m1 0h1m3 0h1m3 0h1m2 0h1m1 0h1m28 0h1m1 0h2m3 0h1m7 0h1m1 0h3m5 0h1m100 0h3m21 0h2m1 0h1m1 0h1m7 0h1m28 0h1m11 0h1m1 0h1m39 0h1m31 0h1m63 0h1m33 0h1m74 0h1m106 0h2M53 237.5h1m5 0h3m1 0h6m1 0h5m1 0h2m1 0h1m1 0h3m14 0h1m2 0h5m3 0h4m1 0h4m6 0h4m1 0h2m3 0h5m1 0h3m6 0h3m3 0h2m4 0h1m8 0h1m1 0h2m7 0h2m1 0h2m3 0h1m2 0h5m3 0h10m1 0h1m1 0h1m1 0h4m1 0h1m2 0h2m4 0h12m5 0h3m1 0h1m5 0h5m1 0h15m2 0h1m1 0h12m6 0h1m1 0h5m2 0h1m1 0h15m2 0h1m2 0h1m7 0h2m1 0h1m6 0h1m1 0h1m1 0h6m7 0h1m3 0h1m1 0h3m1 0h3m2 0h1m3 0h7m1 0h1m1 0h2m1 0h4m4 0h1m1 0h2m1 0h1m2 0h2m11 0h1m1 0h7m2 0h1m3 0h1m1 0h1m2 0h1m2 0h9m8 0h2m1 0h6m3 0h1m2 0h10m2 0h3m5 0h1m1 0h5m1 0h1m1 0h2m6 0h2m1 0h6m2 0h2m1 0h5m1 0h2m1 0h1m1 0h5m1 0h1m2 0h3m1 0h2m1 0h5m2 0h1m1 0h1m5 0h4m1 0h2m2 0h1m1 0h3m1 0h1m1 0h3m10 0h3m1 0h1m2 0h2m1 0h2m1 0h5m1 0h2m1 0h8m1 0h2m2 0h1m2 0h1m5 0h1m3 0h2m1 0h2m2 0h1m3 0h9m7 0h6m4 0h1m1 0h3m2 0h2m3 0h7m1 0h1m5 0h2m1 0h2m3 0h9m1 0h1m1 0h3m2 0h2m7 0h1m1 0h6m1 0h3m2 0h2m2 0h3M54 238.5h2m1 0h3m4 0h2m1 0h1m1 0h3m1 0h10m3 0h2m1 0h3m3 0h1m1 0h2m1 0h10m1 0h1m2 0h2m2 0h2m3 0h2m5 0h1m1 0h2m2 0h5m1 0h4m1 0h8m1 0h16m1 0h1m6 0h2m1 0h11m1 0h10m1 0h1m3 0h7m1 0h12m4 0h2m4 0h3m1 0h13m2 0h1m2 0h1m2 0h1m1 0h3m1 0h1m2 0h1m1 0h10m2 0h4m1 0h4m1 0h3m5 0h7m5 0h2m3 0h16m1 0h3m1 0h8m1 0h1m1 0h1m2 0h27m2 0h1m2 0h5m1 0h3m1 0h29m1 0h3m2 0h16m2 0h1m3 0h2m1 0h7m1 0h2m3 0h9m1 0h2m2 0h24m1 0h10m1 0h3m1 0h4m1 0h2m1 0h10m1 0h4m1 0h37m1 0h42m1 0h2m1 0h15m1 0h9m1 0h4m4 0h1m1 0h10m3 0h20m2 0h20m2 0h17m1 0h14m1 0h10M55 239.5h3m11 0h2m4 0h1m1 0h2m3 0h1m1 0h13m2 0h2m2 0h1m3 0h2m9 0h1m1 0h3m8 0h3m8 0h1m2 0h5m3 0h2m2 0h1m5 0h1m4 0h1m5 0h1m1 0h1m1 0h3m6 0h3m1 0h1m20 0h2m8 0h1m2 0h1m15 0h3m7 0h5m22 0h1m1 0h1m13 0h1m1 0h2m27 0h1m3 0h1m2 0h1m10 0h1m17 0h4m1 0h1m11 0h1m2 0h1m18 0h1m6 0h1m13 0h2m1 0h1m22 0h1m11 0h1m1 0h2m16 0h3m14 0h1m1 0h2m1 0h1m15 0h1m47 0h1m4 0h1m2 0h1m1 0h1m19 0h1m21 0h1m23 0h2m1 0h1m2 0h1m2 0h1m4 0h1m19 0h1m1 0h1m9 0h1m11 0h1m12 0h1m1 0h1m8 0h1m19 0h3m1 0h1M85 240.5h1m6 0h3m1 0h1m77 0h2m1 0h2M175 241.5h1m1 0h1"/>
<path class="tr" stroke="#f00" d="M59 251.5h1m1 0h1m1 0h1m5 0h1m4 0h1m53 0h1m29 0h1m4 0h1m68 0h1m5 0h1m25 0h2m34 0h1m26 0h1m31 0h1m22 0h1m5 0h2m1 0h1m22 0h2m9 0h2m24 0h1m12 0h2m9 0h2m7 0h1m11 0h1m22 0h1m6 0h1m26 0h1m45 0h2m15 0h1m56 0h1m85 0h1M51 252.5h2m1 0h2m1 0h13m1 0h1m1 0h8m1 0h2m1 0h5m2 0h2m3 0h1m1 0h5m1 0h1m4 0h1m2 0h2m3 0h5m2 0h5m3 0h4m1 0h1m1 0h16m1 0h1m1 0h8m1 0h2m1 0h3m1 0h4m1 0h2m1 0h1m1 0h4m1 0h1m2 0h1m2 0h2m4 0h4m1 0h1m2 0h3m1 0h3m2 0h4m2 0h2m1 0h6m2 0h5m8 0h9m1 0h10m2 0h1m3 0h3m7 0h1m1 0h2m1 0h4m4 0h9m3 0h1m5 0h3m1 0h1m3 0h7m1 0h1m1 0h6m2 0h10m1 0h3m3 0h10m1 0h1m1 0h2m2 0h7m2 0h7m6 0h1m3 0h1m1 0h1m3 0h9m7 0h7m2 0h3m4 0h3m1 0h2m1 0h1m1 0h11m1 0h8m2 0h4m1 0h10m3 0h1m6 0h5m1 0h7m3 0h2m1 0h5m1 0h1m3 0h4m2 0h1m2 0h3m2 0h2m2 0h2m1 0h4m1 0h9m9 0h4m1 0h5m2 0h3m4 0h2m2 0h6m1 0h7m1 0h1m4 0h3m1 0h4m1 0h2m6 0h1m1 0h3m3 0h1m4 0h2m2 0h8m7 0h1m1 0h1m1 0h1m2 0h4m1 0h4m1 0h1m1 0h1m1 0h3m2 0h3m3 0h4m3 0h2m2 0h10m4 0h1m2 0h6m2 0h1m2 0h6m4 0h1m1 0h1m4 0h3m4 0h10m1 0h4M53 253.5h4m9 0h2m2 0h4m2 0h1m1 0h8m1 0h15m2 0h16m1 0h5m3 0h13m1 0h1m2 0h8m2 0h1m3 0h3m2 0h1m1 0h9m1 0h16m1 0h9m2 0h6m2 0h7m2 0h8m1 0h1m1 0h3m5 0h9m3 0h1m1 0h4m1 0h1m6 0h3m1 0h4m1 0h11m1 0h2m1 0h2m1 0h5m2 0h1m2 0h14m1 0h6m1 0h1m1 0h9m1 0h7m1 0h1m2 0h1m1 0h2m1 0h5m2 0h2m4 0h12m1 0h2m1 0h4m3 0h1m1 0h1m1 0h2m1 0h7m1 0h8m4 0h8m4 0h5m1 0h15m1 0h1m1 0h1m1 0h9m1 0h8m4 0h6m3 0h10m3 0h4m1 0h1m3 0h7m3 0h1m1 0h15m2 0h12m1 0h2m1 0h1m2 0h2m2 0h11m1 0h2m1 0h2m2 0h3m1 0h9m1 0h1m1 0h2m1 0h1m2 0h8m1 0h3m2 0h1m1 0h16m1 0h3m1 0h5m1 0h3m1 0h1m1 0h3m1 0h19m3 0h2m1 0h4m1 0h10m1 0h15m1 0h2m1 0h9m1 0h2m1 0h3m3 0h3m1 0h12m2 0h6m1 0h1m5 0h7M53 254.5h1m27 0h1m8 0h1m4 0h1m2 0h1m1 0h1m7 0h1m1 0h1m1 0h1m9 0h1m7 0h1m5 0h1m33 0h1m12 0h1m50 0h2m11 0h2m20 0h2m1 0h1m5 0h1m1 0h3m2 0h1m11 0h1m8 0h2m3 0h2m8 0h2m17 0h1m15 0h3m14 0h3m17 0h5m1 0h3m4 0h1m2 0h2m7 0h2m1 0h2m13 0h1m6 0h1m26 0h1m9 0h1m6 0h1m4 0h1m1 0h1m37 0h1m5 0h1m2 0h2m18 0h1m2 0h4m19 0h1m3 0h1m4 0h1m12 0h1m11 0h1m3 0h1m30 0h1m3 0h1m54 0h2m3 0h2m8 0h2m1 0h1m6 0h2m1 0h1m1 0h2m1 0h1m3 0h1M731 255.5h1"/>
<path class="tr" stroke="#00f" d="M89 266.5h2m2 0h1m11 0h1m7 0h1m7 0h1m71 0h1m7 0h1m68 0h1m4 0h1m16 0h1m7 0h1m21 0h1m105 0h1m60 0h1m7 0h1m11 0h1m67 0h1m47 0h1m41 0h1m4 0h2m42 0h1m20 0h1m25 0h2M51 267.5h3m1 0h1m1 0h2m4 0h1m1 0h4m1 0h1m1 0h10m1 0h16m2 0h1m1 0h13m1 0h1m1 0h6m2 0h2m2 0h3m1 0h2m2 0h1m2 0h5m1 0h4m1 0h9m2 0h1m2 0h1m1 0h7m1 0h6m1 0h1m1 0h5m1 0h4m1 0h2m1 0h9m2 0h1m1 0h1m1 0h3m5 0h2m1 0h8m1 0h5m1 0h5m5 0h1m1 0h9m1 0h3m1 0h11m1 0h1m3 0h4m1 0h2m1 0h4m1 0h1m2 0h17m1 0h16m1 0h5m1 0h1m3 0h1m1 0h3m1 0h3m1 0h2m1 0h8m2 0h3m1 0h1m1 0h2m2 0h2m2 0h1m2 0h3m2 0h1m2 0h7m1 0h2m3 0h3m1 0h1m3 0h1m2 0h2m1 0h5m1 0h2m1 0h2m1 0h3m1 0h1m1 0h7m1 0h6m1 0h1m1 0h1m1 0h5m1 0h1m1 0h4m1 0h4m1 0h5m1 0h3m2 0h2m2 0h2m1 0h1m1 0h8m1 0h1m1 0h5m1 0h3m3 0h4m2 0h12m1 0h1m1 0h3m2 0h1m1 0h1m2 0h1m2 0h8m1 0h3m1 0h2m2 0h3m1 0h3m2 0h7m2 0h1m3 0h6m2 0h6m2 0h12m2 0h4m1 0h1m2 0h4m1 0h1m1 0h2m1 0h1m3 0h1m1 0h3m3 0h3m1 0h10m1 0h9m1 0h5m1 0h1m3 0h1m1 0h12m4 0h1m2 0h2m1 0h24m1 0h6m2 0h1m1 0h3m1 0h3m1 0h1m1 0h1m3 0h9m2 0h2M53 268.5h5m1 0h6m1 0h8m1 0h5m1 0h3m1 0h2m4 0h2m1 0h2m1 0h15m4 0h5m2 0h4m1 0h11m1 0h5m1 0h3m3 0h3m1 0h11m1 0h3m1 0h2m2 0h3m1 0h7m1 0h5m1 0h8m1 0h2m2 0h1m1 0h6m2 0h9m1 0h1m1 0h14m1 0h10m2 0h5m1 0h3m1 0h1m1 0h2m3 0h2m1 0h1m1 0h5m1 0h2m1 0h1m1 0h3m2 0h2m1 0h3m1 0h12m1 0h1m1 0h5m4 0h5m1 0h5m1 0h22m3 0h1m1 0h25m1 0h5m1 0h17m1 0h6m1 0h2m1 0h4m2 0h10m2 0h1m1 0h1m1 0h3m2 0h5m1 0h12m1 0h6m1 0h9m1 0h2m1 0h7m1 0h1m1 0h6m1 0h4m1 0h6m1 0h4m2 0h1m1 0h5m3 0h5m1 0h14m3 0h3m1 0h15m1 0h22m1 0h1m2 0h3m1 0h4m1 0h3m1 0h8m1 0h3m2 0h11m1 0h8m1 0h3m1 0h4m3 0h3m8 0h1m1 0h2m2 0h8m1 0h3m5 0h12m6 0h1m5 0h5m1 0h17m1 0h18m4 0h4M60 269.5h1m1 0h1m6 0h1m1 0h1m59 0h1m6 0h1m24 0h1m13 0h1m5 0h1m19 0h1m16 0h1m1 0h1m26 0h1m2 0h1m23 0h1m2 0h2m27 0h1m40 0h1m61 0h2m12 0h1m32 0h1m6 0h1m14 0h1m1 0h1m10 0h1m21 0h1m15 0h1m15 0h1m18 0h2m19 0h1m69 0h1m42 0h2m2 0h2m22 0h1m12 0h1m5 0h1m3 0h1"/>
<path class="tr" stroke="#006400" d="M51 281.5h1m24 0h1m12 0h1m67 0h1m26 0h1m13 0h1m8 0h1m77 0h1m55 0h1m8 0h1m1 0h1m54 0h1m56 0h1m3 0h1m11 0h1m23 0h1m138 0h1m67 0h1M51 282.5h16m1 0h2m1 0h6m3 0h2m1 0h7m3 0h2m1 0h2m2 0h5m1 0h1m1 0h6m2 0h4m1 0h1m5 0h3m2 0h1m3 0h6m2 0h2m3 0h1m2 0h23m1 0h5m1 0h9m1 0h13m1 0h4m1 0h6m5 0h2m2 0h2m3 0h5m3 0h2m4 0h7m2 0h2m1 0h1m1 0h4m1 0h2m2 0h3m1 0h3m6 0h11m1 0h9m1 0h1m1 0h3m5 0h8m1 0h2m1 0h3m1 0h1m1 0h5m1 0h6m2 0h9m1 0h6m2 0h6m2 0h3m3 0h6m3 0h2m2 0h4m1 0h2m4 0h10m1 0h1m1 0h3m2 0h7m1 0h5m2 0h1m4 0h2m1 0h1m1 0h1m1 0h6m1 0h2m1 0h5m1 0h10m1 0h4m2 0h3m1 0h1m2 0h7m7 0h7m3 0h5m1 0h3m2 0h1m3 0h5m4 0h7m1 0h10m2 0h1m3 0h2m2 0h9m1 0h7m1 0h4m2 0h6m1 0h1m1 0h7m1 0h2m5 0h4m1 0h4m2 0h6m1 0h2m1 0h4m2 0h1m1 0h3m1 0h1m1 0h4m1 0h1m1 0h4m2 0h4m1 0h1m2 0h9m1 0h5m2 0h2m2 0h1m2 0h1m1 0h3m1 0h1m1 0h2m1 0h6m1 0h8m3 0h2m2 0h5m1 0h1m2 0h4m1 0h12m5 0h3m1 0h2m1 0h5m1 0h4M52 283.5h3m1 0h8m1 0h7m1 0h3m1 0h4m1 0h5m2 0h32m1 0h16m2 0h1m1 0h2m2 0h10m3 0h4m2 0h4m2 0h1m1 0h3m1 0h2m1 0h3m3 0h1m1 0h1m1 0h5m4 0h7m1 0h5m1 0h1m2 0h7m1 0h8m1 0h2m1 0h3m1 0h9m1 0h24m1 0h10m2 0h1m1 0h1m2 0h2m5 0h1m1 0h4m1 0h7m1 0h1m1 0h2m1 0h7m1 0h2m1 0h3m2 0h13m5 0h7m1 0h5m1 0h12m1 0h6m1 0h6m1 0h7m1 0h3m1 0h1m2 0h11m2 0h6m3 0h13m1 0h1m1 0h10m2 0h7m1 0h1m2 0h1m1 0h3m1 0h5m1 0h21m1 0h1m1 0h4m1 0h7m1 0h10m1 0h9m1 0h5m2 0h3m1 0h8m1 0h6m1 0h5m1 0h4m1 0h8m1 0h2m1 0h6m1 0h1m2 0h1m1 0h9m1 0h1m1 0h9m2 0h3m1 0h2m1 0h1m1 0h5m1 0h10m1 0h3m1 0h3m1 0h7m1 0h4m1 0h1m1 0h4m1 0h4m1 0h8m1 0h3m1 0h11m1 0h2m2 0h2m1 0h7m1 0h8m1 0h1m1 0h3m1 0h3m1 0h11m1 0h13m1 0h1M70 284.5h1m21 0h1m9 0h1m5 0h1m53 0h1m55 0h1m1 0h1m31 0h1m6 0h1m48 0h2m1 0h1m9 0h1m2 0h1m60 0h1m13 0h1m36 0h2m17 0h1m26 0h1m15 0h1m7 0h1m1 0h1m10 0h2m9 0h1m1 0h2m6 0h1m16 0h1m3 0h1m17 0h1m3 0h1m73 0h1m4 0h1m18 0h1m3 0h1m31 0h1m10 0h3m16 0h1m1 0h1m1 0h1"/>
<path class="tr" stroke="#000" d="M56 296.5h1m9 0h1m7 0h1m38 0h1m39 0h1m17 0h1m9 0h1m138 0h1m3 0h1m28 0h1m44 0h1m26 0h1m9 0h1m2 0h1m1 0h1m1 0h1m8 0h1m40 0h1m4 0h1m68 0h1m47 0h1m32 0h1m11 0h1m25 0h1m1 0h1m1 0h1m23 0h1m25 0h1M51 297.5h6m1 0h1m1 0h3m2 0h4m1 0h6m1 0h1m1 0h5m2 0h1m2 0h2m1 0h3m1 0h6m1 0h5m1 0h3m1 0h5m1 0h11m1 0h3m1 0h8m1 0h2m2 0h13m1 0h1m2 0h4m1 0h22m1 0h1m2 0h1m1 0h7m1 0h2m1 0h9m2 0h1m1 0h29m1 0h6m2 0h2m1 0h5m1 0h7m4 0h5m1 0h7m1 0h4m2 0h1m1 0h7m3 0h2m1 0h7m1 0h3m2 0h3m1 0h3m1 0h3m1 0h19m1 0h10m1 0h3m1 0h3m2 0h4m1 0h2m1 0h9m1 0h3m1 0h6m1 0h1m1 0h1m1 0h8m1 0h1m1 0h21m1 0h11m2 0h1m2 0h4m1 0h7m1 0h6m2 0h3m1 0h2m1 0h45m1 0h3m1 0h3m1 0h1m1 0h1m1 0h2m3 0h7m1 0h11m2 0h8m1 0h3m1 0h3m1 0h1m3 0h18m1 0h6m3 0h6m5 0h1m1 0h4m1 0h29m5 0h1m1 0h14m1 0h2m3 0h24m2 0h1m3 0h3m4 0h6m2 0h3m1 0h16m1 0h2m2 0h3M52 298.5h4m1 0h4m1 0h4m1 0h1m1 0h2m3 0h6m2 0h15m2 0h6m2 0h2m2 0h2m2 0h4m1 0h1m2 0h2m2 0h9m6 0h6m1 0h2m4 0h3m1 0h6m2 0h5m1 0h3m1 0h1m1 0h2m3 0h1m4 0h7m1 0h1m2 0h1m2 0h11m4 0h6m1 0h2m1 0h1m1 0h5m1 0h2m2 0h1m1 0h1m1 0h1m1 0h17m1 0h3m1 0h2m1 0h1m2 0h8m3 0h2m1 0h6m1 0h9m1 0h7m2 0h6m2 0h2m1 0h8m1 0h2m3 0h2m2 0h1m1 0h1m2 0h1m1 0h4m1 0h1m1 0h6m1 0h2m3 0h6m2 0h9m1 0h1m1 0h1m3 0h1m2 0h2m1 0h4m1 0h1m1 0h11m1 0h1m2 0h4m1 0h1m1 0h3m2 0h2m4 0h1m1 0h1m1 0h8m1 0h1m1 0h9m3 0h1m5 0h6m2 0h10m1 0h1m1 0h4m1 0h5m2 0h3m3 0h1m2 0h2m3 0h1m1 0h6m1 0h1m1 0h6m1 0h3m2 0h7m1 0h3m2 0h11m2 0h6m2 0h5m1 0h1m1 0h4m2 0h6m3 0h1m1 0h5m1 0h1m2 0h6m1 0h1m1 0h20m1 0h2m3 0h1m2 0h3m10 0h4m2 0h10m3 0h3m3 0h1m1 0h4m1 0h11m2 0h4m2 0h1m3 0h12m1 0h7m1 0h1m2 0h3m1 0h2m1 0h1m1 0h2m1 0h1m1 0h6m1 0h10M64 299.5h1m23 0h1m74 0h1m248 0h2m129 0h1m6 0h1m11 0h1m29 0h1m29 0h1m12 0h1m38 0h1m15 0h1m7 0h1m35 0h1m20 0h1"/>
<path class="tr" stroke="#f00" d="M83 311.5h1m68 0h1m22 0h1m2 0h1m185 0h1m145 0h1m74 0h1m160 0h1M53 312.5h1m2 0h4m1 0h5m4 0h1m2 0h2m1 0h8m2 0h2m1 0h3m1 0h6m2 0h1m1 0h1m2 0h6m1 0h8m1 0h3m4 0h1m1 0h2m1 0h1m5 0h3m1 0h3m2 0h1m1 0h3m1 0h1m2 0h1m2 0h6m3 0h1m4 0h1m2 0h5m1 0h3m1 0h1m3 0h1m2 0h4m1 0h9m1 0h1m1 0h1m1 0h2m1 0h1m1 0h3m2 0h1m1 0h1m1 0h2m2 0h1m2 0h2m3 0h1m5 0h2m1 0h1m1 0h1m1 0h2m2 0h5m1 0h3m1 0h3m1 0h3m1 0h1m3 0h2m3 0h9m1 0h1m1 0h1m3 0h3m1 0h1m4 0h2m1 0h4m1 0h1m1 0h2m1 0h4m1 0h5m3 0h4m2 0h1m2 0h1m1 0h1m6 0h1m3 0h4m2 0h4m2 0h1m1 0h2m1 0h2m1 0h4m1 0h1m1 0h1m3 0h2m4 0h2m2 0h3m1 0h5m1 0h2m2 0h1m1 0h2m5 0h1m3 0h2m5 0h1m1 0h2m3 0h2m1 0h2m1 0h4m1 0h10m2 0h9m1 0h6m3 0h1m1 0h1m3 0h1m1 0h2m4 0h1m1 0h2m1 0h1m1 0h2m1 0h1m1 0h10m1 0h6m3 0h2m1 0h2m3 0h7m1 0h2m2 0h4m1 0h1m5 0h5m1 0h3m2 0h8m2 0h1m1 0h2m1 0h5m1 0h1m6 0h3m2 0h3m1 0h1m4 0h3m2 0h1m1 0h2m1 0h1m2 0h1m4 0h11m1 0h1m3 0h5m1 0h2m2 0h1m2 0h3m1 0h4m2 0h1m1 0h1m5 0h1m1 0h1m2 0h2m1 0h1m1 0h2m1 0h9m5 0h2m1 0h3m3 0h1m3 0h1m1 0h2m6 0h1m1 0h2m1 0h5m1 0h2m2 0h1m2 0h9m1 0h3m4 0h2m1 0h1m1 0h3m1 0h1M51 313.5h6m1 0h4m1 0h16m1 0h2m1 0h10m2 0h2m1 0h16m1 0h4m1 0h3m1 0h20m1 0h7m1 0h10m1 0h11m1 0h5m1 0h38m2 0h14m1 0h12m1 0h8m1 0h10m1 0h3m1 0h14m1 0h25m2 0h1m1 0h1m2 0h25m1 0h37m1 0h55m1 0h1m1 0h5m1 0h5m1 0h12m2 0h3m2 0h1m1 0h26m2 0h4m1 0h2m1 0h1m1 0h6m2 0h9m1 0h9m1 0h22m1 0h4m1 0h3m1 0h14m1 0h10m1 0h18m1 0h10m2 0h3m1 0h1m1 0h2m1 0h8m1 0h11m1 0h2m1 0h1m1 0h15m1 0h2m1 0h5m1 0h47m1 0h6m2 0h8m1 0h5m2 0h8M69 314.5h1m15 0h1m10 0h1m15 0h1m23 0h1m10 0h2m5 0h1m1 0h3m1 0h1m7 0h1m3 0h1m1 0h1m7 0h1m10 0h2m40 0h1m4 0h6m7 0h1m1 0h1m10 0h1m16 0h1m21 0h1m15 0h1m12 0h1m5 0h1m7 0h2m33 0h1m2 0h1m10 0h1m12 0h1m7 0h1m9 0h1m1 0h1m5 0h1m56 0h1m5 0h1m6 0h1m35 0h1m12 0h2m11 0h1m11 0h1m8 0h1m3 0h1m7 0h1m12 0h1m4 0h1m7 0h1m14 0h2m29 0h1m5 0h1m22 0h1m8 0h1m13 0h2m31 0h1"/>
<path class="tr" stroke="#00f" d="M89 326.5h1m29 0h1m11 0h1m1 0h1m30 0h2m16 0h1m10 0h1m11 0h1m2 0h1m33 0h1m33 0h1m6 0h1m18 0h1m17 0h1m9 0h1m33 0h1m15 0h1m6 0h1m2 0h1m1 0h1m16 0h1m22 0h1m54 0h1m1 0h2m48 0h1m5 0h1m1 0h1m2 0h1m20 0h1m8 0h1m7 0h3m24 0h1m20 0h1m37 0h1m14 0h1m3 0h1m15 0h1m47 0h1M53 327.5h8m3 0h5m1 0h6m1 0h4m4 0h3m1 0h2m2 0h1m2 0h1m5 0h1m1 0h6m1 0h1m1 0h9m2 0h5m2 0h9m1 0h7m1 0h5m1 0h2m1 0h10m2 0h16m2 0h1m1 0h6m2 0h3m2 0h8m1 0h16m2 0h2m1 0h4m1 0h5m1 0h6m2 0h10m2 0h13m2 0h6m5 0h3m1 0h2m1 0h7m1 0h3m1 0h17m1 0h6m1 0h3m1 0h1m3 0h4m1 0h2m1 0h4m1 0h2m1 0h9m2 0h2m2 0h2m1 0h10m1 0h17m1 0h6m1 0h2m3 0h4m1 0h1m1 0h6m1 0h8m1 0h5m2 0h9m1 0h3m1 0h1m1 0h2m1 0h1m1 0h5m2 0h3m1 0h1m2 0h1m2 0h3m1 0h2m1 0h1m3 0h4m1 0h1m2 0h5m1 0h16m3 0h6m1 0h20m2 0h1m2 0h5m1 0h6m2 0h1m2 0h3m1 0h1m3 0h4m1 0h2m1 0h3m3 0h4m1 0h2m1 0h6m1 0h1m1 0h12m4 0h10m1 0h2m2 0h3m2 0h2m1 0h1m6 0h1m5 0h15m1 0h2m1 0h9m2 0h28m3 0h4m1 0h6m1 0h5m1 0h10m1 0h6m3 0h3M51 328.5h9m1 0h6m1 0h2m1 0h1m3 0h18m1 0h13m2 0h4m1 0h2m1 0h2m3 0h5m1 0h3m1 0h1m3 0h6m1 0h1m3 0h8m1 0h8m2 0h1m1 0h8m1 0h3m3 0h15m2 0h4m2 0h3m1 0h9m4 0h7m1 0h4m1 0h10m2 0h10m1 0h9m6 0h9m1 0h10m1 0h2m1 0h1m1 0h1m2 0h8m2 0h5m3 0h2m3 0h2m5 0h10m2 0h3m1 0h3m1 0h8m4 0h5m1 0h8m2 0h3m2 0h1m5 0h3m1 0h4m1 0h6m4 0h15m1 0h5m4 0h8m1 0h4m1 0h3m2 0h15m1 0h4m2 0h2m1 0h5m1 0h1m1 0h1m2 0h10m1 0h4m2 0h3m1 0h4m1 0h2m1 0h1m1 0h2m2 0h4m1 0h1m2 0h2m1 0h2m1 0h4m4 0h2m1 0h2m1 0h7m3 0h4m1 0h1m3 0h6m1 0h2m1 0h5m3 0h9m2 0h3m1 0h2m1 0h1m1 0h12m1 0h1m1 0h1m1 0h7m1 0h1m3 0h10m1 0h12m1 0h7m1 0h2m1 0h3m1 0h4m1 0h5m1 0h2m1 0h1m1 0h4m3 0h1m2 0h3m2 0h1m1 0h2m2 0h6m1 0h2m1 0h9m2 0h1m1 0h3m1 0h11m4 0h3m1 0h1m2 0h6M63 329.5h1m18 0h2m6 0h1m32 0h1m6 0h1m21 0h1m17 0h2m15 0h1m1 0h1m53 0h1m7 0h1m34 0h1m46 0h1m85 0h1m1 0h1m23 0h2m13 0h1m12 0h1m20 0h2m13 0h1m4 0h1m42 0h1m97 0h1m12 0h1m3 0h1m11 0h1m56 0h1"/>
<path class="tr" stroke="#006400" d="M51 341.5h1m4 0h1m4 0h1m4 0h1m16 0h1m1 0h1m11 0h1m2 0h1m12 0h2m7 0h2m9 0h1m29 0h1m11 0h1m16 0h1m17 0h1m3 0h1m54 0h1m25 0h1m53 0h1m5 0h2m11 0h1m10 0h1m20 0h1m15 0h1m10 0h1m35 0h1m1 0h1m9 0h1m15 0h2m38 0h2m8 0h2m5 0h2m5 0h1m3 0h1m19 0h1m9 0h1m10 0h1m6 0h1m11 0h3m5 0h1m3 0h1m14 0h1m6 0h1m14 0h1m7 0h1m11 0h1m7 0h2m22 0h1m10 0h1m3 0h1m1 0h1m1 0h2m13 0h1m13 0h1M52 342.5h19m1 0h37m1 0h17m2 0h3m1 0h2m1 0h2m1 0h1m1 0h4m1 0h10m1 0h3m1 0h10m2 0h5m1 0h5m2 0h14m1 0h8m1 0h11m2 0h1m2 0h4m1 0h7m1 0h1m2 0h5m1 0h1m1 0h9m1 0h11m1 0h1m1 0h8m1 0h3m1 0h13m2 0h28m1 0h7m2 0h3m1 0h1m1 0h20m1 0h8m1 0h1m1 0h15m1 0h5m1 0h9m1 0h3m1 0h5m1 0h31m1 0h9m1 0h6m1 0h3m2 0h9m1 0h1m1 0h1m2 0h8m1 0h13m1 0h6m1 0h7m1 0h1m1 0h27m1 0h14m1 0h11m1 0h8m1 0h2m1 0h7m1 0h8m1 0h13m1 0h12m1 0h16m1 0h14m2 0h5m1 0h1m1 0h12m1 0h15m1 0h9m1 0h5m1 0h2m1 0h4m1 0h1m1 0h7m1 0h8m1 0h3m1 0h9m1 0h3M52 343.5h2m4 0h3m2 0h2m2 0h5m2 0h4m1 0h2m4 0h1m2 0h3m1 0h5m4 0h3m2 0h5m1 0h1m3 0h2m9 0h3m2 0h1m2 0h8m1 0h2m2 0h1m1 0h3m1 0h4m1 0h2m2 0h1m1 0h4m2 0h4m1 0h6m1 0h3m1 0h1m1 0h3m1 0h4m2 0h5m1 0h2m2 0h1m1 0h3m2 0h1m1 0h2m1 0h10m1 0h1m1 0h1m2 0h8m1 0h9m4 0h3m1 0h1m1 0h1m4 0h2m1 0h4m3 0h3m1 0h4m1 0h1m2 0h3m1 0h1m3 0h2m1 0h2m1 0h1m3 0h1m1 0h3m1 0h7m1 0h1m2 0h2m1 0h2m1 0h1m1 0h6m1 0h2m1 0h1m1 0h1m4 0h2m1 0h1m1 0h1m2 0h1m1 0h3m1 0h2m1 0h2m1 0h1m2 0h3m8 0h1m1 0h1m4 0h3m1 0h1m1 0h1m1 0h1m3 0h1m1 0h1m1 0h7m2 0h2m1 0h1m2 0h3m1 0h4m1 0h1m4 0h2m1 0h4m2 0h1m1 0h4m1 0h1m2 0h1m1 0h3m1 0h1m3 0h2m3 0h2m9 0h8m5 0h2m2 0h1m2 0h1m1 0h10m1 0h6m3 0h2m1 0h2m1 0h1m1 0h1m1 0h5m3 0h4m3 0h2m1 0h1m2 0h3m1 0h1m6 0h2m2 0h5m1 0h1m2 0h4m3 0h1m2 0h3m1 0h2m1 0h3m1 0h6m2 0h1m1 0h4m1 0h2m5 0h6m1 0h1m1 0h1m1 0h6m4 0h2m1 0h1m3 0h1m1 0h1m2 0h3m1 0h1m2 0h4m3 0h3m2 0h4m1 0h6m1 0h1m4 0h2m5 0h1m1 0h3m2 0h2m1 0h2m1 0h1m2 0h7m1 0h1m1 0h10m3 0h1m2 0h8m2 0h3m1 0h10m1 0h5M240 344.5h1m178 0h1m29 0h1m46 0h1m228 0h1m1 0h1m42 0h1"/>
<path class="tr" stroke="#000" d="M51 356.5h1m21 0h2m1 0h1m1 0h1m9 0h1m4 0h1m15 0h1m10 0h2m13 0h1m10 0h1m19 0h1m17 0h1m44 0h1m25 0h1m10 0h1m6 0h1m13 0h1m122 0h1m11 0h1m3 0h1m6 0h1m9 0h1m8 0h1m5 0h1m8 0h1m22 0h1m27 0h1m18 0h1m2 0h1m45 0h1m3 0h1m7 0h1m32 0h1m31 0h1m1 0h1m1 0h1m1 0h1m77 0h1m13 0h1m1 0h1M51 357.5h8m1 0h4m1 0h2m4 0h9m1 0h15m4 0h2m1 0h4m1 0h4m2 0h4m2 0h8m1 0h3m1 0h5m1 0h3m1 0h15m1 0h2m1 0h8m1 0h3m2 0h3m2 0h6m3 0h14m1 0h28m2 0h5m2 0h1m1 0h6m5 0h7m1 0h11m1 0h2m1 0h12m1 0h9m4 0h1m1 0h4m2 0h8m2 0h1m1 0h4m1 0h11m1 0h3m1 0h1m1 0h1m1 0h13m1 0h1m1 0h10m1 0h1m2 0h4m2 0h1m1 0h1m2 0h2m1 0h18m2 0h5m1 0h9m2 0h5m1 0h2m1 0h32m2 0h3m1 0h1m1 0h3m1 0h3m2 0h6m1 0h6m2 0h2m1 0h1m1 0h4m1 0h8m3 0h8m1 0h8m2 0h1m1 0h4m1 0h4m1 0h5m1 0h6m1 0h7m2 0h14m1 0h3m3 0h7m1 0h3m3 0h1m1 0h2m2 0h2m1 0h20m1 0h10m1 0h1m1 0h5m1 0h11m1 0h7m2 0h6m1 0h3m1 0h1m1 0h8m1 0h7m1 0h5m2 0h4m2 0h9m1 0h15m1 0h2m2 0h13m1 0h2M51 358.5h3m1 0h6m1 0h1m1 0h1m1 0h5m6 0h1m1 0h2m3 0h2m1 0h2m1 0h3m3 0h10m1 0h2m1 0h5m2 0h3m2 0h1m3 0h11m1 0h2m1 0h3m1 0h1m2 0h2m1 0h1m1 0h2m1 0h1m1 0h1m1 0h4m2 0h1m2 0h7m3 0h3m3 0h7m2 0h6m1 0h2m1 0h2m1 0h5m4 0h3m1 0h1m1 0h3m1 0h1m1 0h1m2 0h4m1 0h2m2 0h4m2 0h9m2 0h7m3 0h1m2 0h3m1 0h1m1 0h3m1 0h4m1 0h3m1 0h4m1 0h3m1 0h11m1 0h17m1 0h1m1 0h2m1 0h3m2 0h1m1 0h1m2 0h4m1 0h3m3 0h1m2 0h1m1 0h1m2 0h6m3 0h1m1 0h3m1 0h3m1 0h9m2 0h3m1 0h11m1 0h2m1 0h4m1 0h4m7 0h6m1 0h2m2 0h4m4 0h1m2 0h3m1 0h3m1 0h1m1 0h6m1 0h2m2 0h3m1 0h3m1 0h3m1 0h6m2 0h1m2 0h2m1 0h8m1 0h6m1 0h6m2 0h4m1 0h2m1 0h1m2 0h3m4 0h1m2 0h4m1 0h9m1 0h2m1 0h13m1 0h6m1 0h6m3 0h14m1 0h2m1 0h1m1 0h5m1 0h3m1 0h2m1 0h3m2 0h1m5 0h2m3 0h1m2 0h3m1 0h6m1 0h4m2 0h3m1 0h1m1 0h3m4 0h7m1 0h3m1 0h4m1 0h8m1 0h2m4 0h5m3 0h2m1 0h2m1 0h12m2 0h4m3 0h5m1 0h2m1 0h8m1 0h2m1 0h2m1 0h1m5 0h1M69 359.5h2m117 0h2m133 0h1m49 0h1m56 0h1m47 0h1m62 0h1m2 0h1m14 0h1m125 0h1m5 0h1m11 0h1m48 0h1"/>
<path class="tr" stroke="#f00" d="M64 371.5h1m3 0h1m2 0h2m11 0h1m6 0h1m27 0h1m45 0h1m7 0h1m27 0h1m1 0h1m28 0h1m13 0h1m1 0h2m16 0h1m3 0h1m19 0h1m22 0h1m8 0h1m11 0h1m30 0h1m6 0h1m27 0h1m2 0h1m75 0h1m2 0h1m8 0h1m1 0h2m6 0h2m1 0h2m28 0h2m11 0h2m2 0h1m4 0h1m11 0h1m21 0h1m3 0h1m18 0h1m17 0h2m15 0h1m10 0h1m5 0h1m4 0h1m11 0h1m8 0h1m8 0h1m8 0h1m10 0h1m21 0h2m7 0h1M51 372.5h6m1 0h1m1 0h14m1 0h7m1 0h13m1 0h2m1 0h3m1 0h22m1 0h1m1 0h10m1 0h5m2 0h1m1 0h18m1 0h4m1 0h28m1 0h14m1 0h6m1 0h4m1 0h7m2 0h3m1 0h1m1 0h19m1 0h9m1 0h4m1 0h31m2 0h4m1 0h39m3 0h46m1 0h23m1 0h6m2 0h1m1 0h10m1 0h3m1 0h2m2 0h1m1 0h9m1 0h25m1 0h12m3 0h4m2 0h4m1 0h42m1 0h21m1 0h9m1 0h43m1 0h2m1 0h5m1 0h1m1 0h6m1 0h6m1 0h6m1 0h5m1 0h37m1 0h3m3 0h1m2 0h3m1 0h3m1 0h1m2 0h4m1 0h12m2 0h7m1 0h3m1 0h2M53 373.5h3m1 0h4m1 0h3m2 0h1m1 0h2m2 0h6m1 0h3m1 0h2m3 0h2m1 0h2m1 0h6m1 0h3m3 0h1m1 0h3m3 0h1m1 0h1m2 0h3m2 0h10m3 0h13m1 0h2m1 0h3m3 0h1m3 0h2m4 0h2m1 0h8m1 0h3m1 0h2m3 0h4m5 0h1m2 0h1m2 0h3m2 0h1m1 0h2m2 0h1m1 0h1m1 0h1m3 0h3m4 0h1m1 0h2m2 0h5m5 0h5m4 0h3m1 0h3m2 0h1m1 0h2m1 0h2m1 0h1m1 0h3m1 0h1m1 0h2m1 0h3m4 0h2m1 0h2m2 0h3m1 0h3m1 0h3m3 0h4m1 0h1m3 0h1m2 0h1m1 0h1m5 0h2m3 0h1m1 0h2m1 0h6m4 0h4m4 0h1m1 0h6m3 0h1m4 0h2m2 0h1m1 0h1m1 0h3m1 0h1m1 0h6m2 0h1m2 0h2m2 0h2m1 0h2m3 0h4m2 0h3m1 0h1m2 0h2m1 0h1m1 0h1m1 0h5m1 0h7m1 0h1m2 0h3m1 0h6m1 0h4m1 0h2m2 0h3m4 0h3m2 0h1m2 0h2m2 0h1m3 0h2m8 0h8m2 0h2m4 0h1m2 0h3m2 0h4m3 0h2m2 0h2m5 0h1m1 0h1m2 0h1m3 0h3m2 0h1m1 0h2m1 0h1m3 0h2m2 0h2m3 0h8m4 0h2m1 0h4m1 0h2m1 0h2m1 0h1m1 0h1m9 0h1m1 0h3m3 0h4m3 0h2m2 0h8m1 0h1m2 0h4m3 0h2m3 0h3m2 0h4m3 0h4m2 0h2m2 0h2m9 0h3m1 0h1m4 0h1m3 0h2m1 0h1m1 0h1m3 0h3m2 0h19m1 0h1m2 0h4m2 0h1m2 0h1m1 0h3m1 0h4m1 0h2m1 0h3M148 374.5h1m59 0h1m14 0h1m55 0h1m18 0h1m418 0h1"/>
<path class="tr" stroke="#00f" d="M52 386.5h1m11 0h2m18 0h1m16 0h1m11 0h2m13 0h2m14 0h1m47 0h1m2 0h1m1 0h1m47 0h1m5 0h1m21 0h1m2 0h1m25 0h1m4 0h1m107 0h1m75 0h1m8 0h1m32 0h1m23 0h1m14 0h1m25 0h1m48 0h1m10 0h1m51 0h1M51 387.5h4m2 0h14m2 0h5m3 0h6m3 0h1m1 0h16m1 0h1m2 0h12m3 0h6m2 0h6m1 0h1m1 0h1m2 0h2m1 0h4m2 0h3m1 0h1m2 0h6m1 0h1m2 0h1m3 0h4m2 0h4m1 0h16m2 0h2m2 0h2m2 0h1m1 0h1m2 0h13m3 0h4m1 0h16m1 0h2m1 0h2m2 0h1m1 0h2m1 0h8m1 0h3m1 0h1m1 0h3m1 0h3m1 0h3m1 0h3m1 0h3m1 0h6m2 0h17m4 0h6m1 0h4m2 0h2m1 0h6m1 0h1m1 0h1m1 0h2m1 0h4m2 0h9m1 0h2m1 0h11m1 0h4m2 0h2m2 0h1m3 0h14m1 0h5m1 0h6m1 0h4m1 0h2m1 0h8m1 0h10m1 0h2m1 0h1m1 0h4m1 0h3m1 0h6m1 0h1m1 0h7m1 0h7m1 0h12m1 0h4m1 0h6m1 0h3m2 0h8m1 0h6m4 0h2m1 0h10m2 0h3m2 0h12m2 0h6m2 0h7m1 0h1m2 0h3m5 0h6m1 0h1m1 0h8m1 0h3m1 0h1m2 0h2m1 0h2m1 0h2m1 0h8m2 0h3m2 0h2m1 0h4m1 0h3m1 0h1m2 0h8m1 0h7m3 0h1m1 0h7m2 0h5m1 0h1m1 0h10m2 0h3m2 0h3m1 0h1m1 0h5m1 0h1m1 0h2m1 0h4m1 0h1m2 0h5m1 0h2m4 0h2M51 388.5h1m1 0h5m1 0h3m1 0h1m2 0h18m1 0h10m1 0h1m1 0h2m3 0h2m1 0h7m2 0h1m1 0h11m2 0h5m1 0h1m2 0h5m1 0h8m1 0h4m1 0h8m2 0h15m2 0h5m2 0h2m3 0h3m3 0h2m1 0h15m1 0h1m2 0h3m1 0h1m1 0h6m1 0h1m2 0h3m2 0h10m2 0h8m1 0h3m2 0h3m1 0h1m1 0h6m1 0h2m1 0h12m1 0h5m1 0h5m1 0h3m1 0h6m4 0h6m1 0h2m1 0h9m1 0h1m1 0h6m1 0h4m1 0h2m2 0h5m1 0h1m1 0h1m1 0h11m2 0h11m1 0h8m2 0h4m2 0h1m1 0h13m1 0h5m1 0h2m1 0h8m1 0h3m5 0h1m2 0h14m1 0h6m1 0h4m4 0h1m1 0h3m2 0h1m2 0h3m2 0h3m2 0h1m1 0h4m1 0h14m2 0h20m1 0h1m3 0h16m2 0h1m1 0h7m4 0h4m1 0h3m1 0h5m1 0h1m1 0h7m1 0h26m1 0h1m2 0h12m1 0h6m2 0h21m1 0h1m3 0h9m1 0h7m1 0h5m1 0h2m1 0h2m2 0h9m1 0h6m1 0h9m3 0h1m1 0h5m1 0h10M111 389.5h1m14 0h1m7 0h1m13 0h2m21 0h1m3 0h1m56 0h1m1 0h1m28 0h2m66 0h1m12 0h1m33 0h1m27 0h1m28 0h1m27 0h1m22 0h1m43 0h1m31 0h1m1 0h4m1 0h1m2 0h2m11 0h1m6 0h1m17 0h1m60 0h1m3 0h1m19 0h1m21 0h1m27 0h1m9 0h1m2 0h1m5 0h1M566 390.5h1m2 0h1m3 0h1M566 391.5h1"/>
<path class="g" d="M50.5 50V770M98.5 50V770M146.5 50V770M194.5 50V770M242.5 50V770M290.5 50V770M338.5 50V770M386.5 50V770M434.5 50V770M482.5 50V770M530.5 50V770M578.5 50V770M626.5 50V770M674.5 50V770M722.5 50V770M770.5 50V770"/>
<path class="k" d="M50 50.5H771"/>
<path class="k" d="M50 770.5H771"/>
<path class="k" d="M50.5 770V782M58.5 770V778M66.5 770V778M74.5 770V778M82.5 770V778M90.5 770V778M98.5 770V782M106.5 770V778M114.5 770V778M122.5 770V778M130.5 770V778M138.5 770V778M146.5 770V782M154.5 770V778M162.5 770V778M170.5 770V778M178.5 770V778M186.5 770V778M194.5 770V782M202.5 770V778M210.5 770V778M218.5 770V778M226.5 770V778M234.5 770V778M242.5 770V782M250.5 770V778M258.5 770V778M266.5 770V778M274.5 770V778M282.5 770V778M290.5 770V782M298.5 770V778M306.5 770V778M314.5 770V778M322.5 770V778M330.5 770V778M338.5 770V782M346.5 770V778M354.5 770V778M362.5 770V778M370.5 770V778M378.5 770V778M386.5 770V782M394.5 770V778M402.5 770V778M410.5 770V778M418.5 770V778M426.5 770V778M434.5 770V782M442.5 770V778M450.5 770V778M458.5 770V778M466.5 770V778M474.5 770V778M482.5 770V782M490.5 770V778M498.5 770V778M506.5 770V778M514.5 770V778M522.5 770V778M530.5 770V782M538.5 770V778M546.5 770V778M554.5 770V778M562.5 770V778M570.5 770V778M578.5 770V782M586.5 770V778M594.5 770V778M602.5 770V778M610.5 770V778M618.5 770V778M626.5 770V782M634.5 770V778M642.5 770V778M650.5 770V778M658.5 770V778M666.5 770V778M674.5 770V782M682.5 770V778M690.5 770V778M698.5 770V778M706.5 770V778M714.5 770V778M722.5 770V782M730.5 770V778M738.5 770V778M746.5 770V778M754.5 770V778M762.5 770V778M770.5 770V782"/>
<g id="labels" style="filter:grayscale(1)">
<text class="b" transform="translate(50 16) scale(1 1.06)">Apr 5,2026</text>
<text class="b" transform="translate(50 31) scale(1 1.06)">TROD HHZ CQ --</text>
<text class="b" transform="translate(50 46) scale(1 1.06)">(Troodos)</text>
<text class="b" transform="translate(-0.5 61) scale(1 1.06)">EET</text>
<text class="b" transform="translate(784.5 61) scale(1 1.06)">UTC</text>
<text class="d" x="13.0 20.0 28.2 34.0 41.0" y="123">15:00</text>
<text class="d" x="773.0 780.0 788.2 794.0 801.0" y="123">13:15</text>
<text class="d" x="13.0 20.0 28.2 34.0 41.0" y="183">16:00</text>
<text class="d" x="773.0 780.0 788.2 794.0 801.0" y="183">14:15</text>
<text class="d" x="13.0 20.0 28.2 34.0 41.0" y="243">17:00</text>
<text class="d" x="773.0 780.0 788.2 794.0 801.0" y="243">15:15</text>
<text class="d" x="13.0 20.0 28.2 34.0 41.0" y="303">18:00</text>
<text class="d" x="773.0 780.0 788.2 794.0 801.0" y="303">16:15</text>
<text class="d" x="13.0 20.0 28.2 34.0 41.0" y="363">19:00</text>
<text class="d" x="773.0 780.0 788.2 794.0 801.0" y="363">17:15</text>
<text class="d" x="13.0 20.0 28.2 34.0 41.0" y="423">20:00</text>
<text class="d" x="773.0 780.0 788.2 794.0 801.0" y="423">18:15</text>
<text class="d" x="13.0 20.0 28.2 34.0 41.0" y="483">21:00</text>
<text class="d" x="773.0 780.0 788.2 794.0 801.0" y="483">19:15</text>
<text class="d" x="13.0 20.0 28.2 34.0 41.0" y="543">22:00</text>
<text class="d" x="773.0 780.0 788.2 794.0 801.0" y="543">20:15</text>
<text class="d" x="13.0 20.0 28.2 34.0 41.0" y="603">23:00</text>
<text class="d" x="773.0 780.0 788.2 794.0 801.0" y="603">21:15</text>
<text class="d" x="13.0 20.0 28.2 34.0 41.0" y="663">00:00</text>
<text class="d" x="773.0 780.0 788.2 794.0 801.0" y="663">22:15</text>
<text class="d" x="13.0 20.0 28.2 34.0 41.0" y="723">01:00</text>
<text class="d" x="773.0 780.0 788.2 794.0 801.0" y="723">23:15</text>
<text class="d" x="43.5 50.5" y="792">00</text>
<text class="d" x="91.5 98.5" y="792">01</text>
<text class="d" x="139.5 146.5" y="792">02</text>
<text class="d" x="187.5 194.5" y="792">03</text>
<text class="d" x="235.5 242.5" y="792">04</text>
<text class="d" x="283.5 290.5" y="792">05</text>
<text class="d" x="331.5 338.5" y="792">06</text>
<text class="d" x="379.5 386.5" y="792">07</text>
<text class="d" x="427.5 434.5" y="792">08</text>
<text class="d" x="475.5 482.5" y="792">09</text>
<text class="d" x="523.5 530.5" y="792">10</text>
<text class="d" x="571.5 578.5" y="792">11</text>
<text class="d" x="619.5 626.5" y="792">12</text>
<text class="d" x="667.5 674.5" y="792">13</text>
<text class="d" x="715.5 722.5" y="792">14</text>
<text class="d" x="763.5 770.5" y="792">15</text>
<text class="b" transform="translate(374 803) scale(1 1.06)">TIME (MINUTES)</text>
<text class="t" x="20.5" y="803">Each Vertical Division = 1000.00 microvolts</text>
<text class="t" x="481.5" y="803">Traces clipped at plus/minus 20 vertical divisions</text>
<text class="t" x="825.6" y="57">DC</text>
<text class="t" x="825.4" y="61"><tspan class="m" dy="0.7">-</tspan><tspan x="830.6" dy="-0.7">561</tspan></text>
<text class="t" x="825.4" y="76"><tspan class="m" dy="0.7">-</tspan><tspan x="830.6" dy="-0.7">569</tspan></text>
<text class="t" x="825.4" y="91"><tspan class="m" dy="0.7">-</tspan><tspan x="830.6" dy="-0.7">586</tspan></text>
<text class="t" x="825.4" y="106"><tspan class="m" dy="0.7">-</tspan><tspan x="830.6" dy="-0.7">593</tspan></text>
<text class="t" x="825.4" y="121"><tspan class="m" dy="0.7">-</tspan><tspan x="830.6" dy="-0.7">593</tspan></text>
<text class="t" x="825.4" y="136"><tspan class="m" dy="0.7">-</tspan><tspan x="830.6" dy="-0.7">590</tspan></text>
<text class="t" x="825.4" y="151"><tspan class="m" dy="0.7">-</tspan><tspan x="830.6" dy="-0.7">583</tspan></text>
<text class="t" x="825.4" y="166"><tspan class="m" dy="0.7">-</tspan><tspan x="830.6" dy="-0.7">568</tspan></text>
<text class="t" x="825.4" y="181"><tspan class="m" dy="0.7">-</tspan><tspan x="830.6" dy="-0.7">549</tspan></text>
<text class="t" x="825.4" y="196"><tspan class="m" dy="0.7">-</tspan><tspan x="830.6" dy="-0.7">528</tspan></text>
<text class="t" x="825.4" y="211"><tspan class="m" dy="0.7">-</tspan><tspan x="830.6" dy="-0.7">507</tspan></text>
<text class="t" x="825.4" y="226"><tspan class="m" dy="0.7">-</tspan><tspan x="830.6" dy="-0.7">487</tspan></text>
<text class="t" x="825.4" y="241"><tspan class="m" dy="0.7">-</tspan><tspan x="830.6" dy="-0.7">464</tspan></text>
<text class="t" x="825.4" y="256"><tspan class="m" dy="0.7">-</tspan><tspan x="830.6" dy="-0.7">450</tspan></text>
<text class="t" x="825.4" y="271"><tspan class="m" dy="0.7">-</tspan><tspan x="830.6" dy="-0.7">435</tspan></text>
<text class="t" x="825.4" y="286"><tspan class="m" dy="0.7">-</tspan><tspan x="830.6" dy="-0.7">421</tspan></text>
<text class="t" x="825.4" y="301"><tspan class="m" dy="0.7">-</tspan><tspan x="830.6" dy="-0.7">398</tspan></text>
<text class="t" x="825.4" y="316"><tspan class="m" dy="0.7">-</tspan><tspan x="830.6" dy="-0.7">371</tspan></text>
<text class="t" x="825.4" y="331"><tspan class="m" dy="0.7">-</tspan><tspan x="830.6" dy="-0.7">340</tspan></text>
<text class="t" x="825.4" y="346"><tspan class="m" dy="0.7">-</tspan><tspan x="830.6" dy="-0.7">311</tspan></text>
<text class="t" x="825.4" y="361"><tspan class="m" dy="0.7">-</tspan><tspan x="830.6" dy="-0.7">291</tspan></text>
<text class="t" x="825.4" y="376"><tspan class="m" dy="0.7">-</tspan><tspan x="830.6" dy="-0.7">268</tspan></text>
<text class="t" x="825.4" y="391"><tspan class="m" dy="0.7">-</tspan><tspan x="830.6" dy="-0.7">242</tspan></text>
<text class="t" x="0.8" y="805" style="font-size:6.5px;letter-spacing:0">.ʜ</text>
</g>
</svg></body></html>
